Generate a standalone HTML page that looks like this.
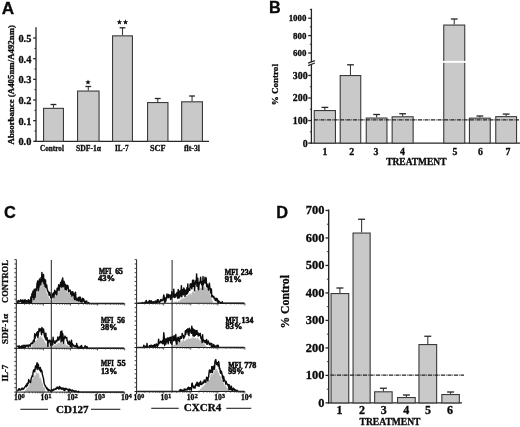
<!DOCTYPE html>
<html><head><meta charset="utf-8"><style>
html,body{margin:0;padding:0;background:#fff;}
svg{display:block;filter:blur(0.35px);}
text{fill:#0a0a0a;stroke:#0a0a0a;stroke-width:0.3px;}
.s{font-family:"Liberation Serif",serif;font-weight:bold;}
.r{font-family:"Liberation Serif",serif;font-weight:bold;}
.p{font-family:"Liberation Sans",sans-serif;font-weight:bold;}
</style></head><body>
<svg width="520" height="427" viewBox="0 0 520 427">
<rect width="520" height="427" fill="#fff"/>
<text class="p" x="1.80" y="13.60" font-size="17.2" text-anchor="start" >A</text>
<line x1="36.00" y1="27.30" x2="36.00" y2="141.90" stroke="#262626" stroke-width="1.3" />
<line x1="35.40" y1="141.30" x2="209.00" y2="141.30" stroke="#262626" stroke-width="1.3" />
<line x1="33.20" y1="141.30" x2="36.00" y2="141.30" stroke="#262626" stroke-width="1.3" />
<text class="s" x="31.30" y="145.20" font-size="9.8" text-anchor="end" textLength="12.90" lengthAdjust="spacingAndGlyphs" >0.0</text>
<line x1="34.40" y1="130.98" x2="36.00" y2="130.98" stroke="#262626" stroke-width="0.9" />
<line x1="33.20" y1="120.65" x2="36.00" y2="120.65" stroke="#262626" stroke-width="1.3" />
<text class="s" x="31.30" y="124.55" font-size="9.8" text-anchor="end" textLength="12.90" lengthAdjust="spacingAndGlyphs" >0.1</text>
<line x1="34.40" y1="110.33" x2="36.00" y2="110.33" stroke="#262626" stroke-width="0.9" />
<line x1="33.20" y1="100.00" x2="36.00" y2="100.00" stroke="#262626" stroke-width="1.3" />
<text class="s" x="31.30" y="103.90" font-size="9.8" text-anchor="end" textLength="12.90" lengthAdjust="spacingAndGlyphs" >0.2</text>
<line x1="34.40" y1="89.68" x2="36.00" y2="89.68" stroke="#262626" stroke-width="0.9" />
<line x1="33.20" y1="79.35" x2="36.00" y2="79.35" stroke="#262626" stroke-width="1.3" />
<text class="s" x="31.30" y="83.25" font-size="9.8" text-anchor="end" textLength="12.90" lengthAdjust="spacingAndGlyphs" >0.3</text>
<line x1="34.40" y1="69.03" x2="36.00" y2="69.03" stroke="#262626" stroke-width="0.9" />
<line x1="33.20" y1="58.70" x2="36.00" y2="58.70" stroke="#262626" stroke-width="1.3" />
<text class="s" x="31.30" y="62.60" font-size="9.8" text-anchor="end" textLength="12.90" lengthAdjust="spacingAndGlyphs" >0.4</text>
<line x1="34.40" y1="48.38" x2="36.00" y2="48.38" stroke="#262626" stroke-width="0.9" />
<line x1="33.20" y1="38.05" x2="36.00" y2="38.05" stroke="#262626" stroke-width="1.3" />
<text class="s" x="31.30" y="41.95" font-size="9.8" text-anchor="end" textLength="12.90" lengthAdjust="spacingAndGlyphs" >0.5</text>
<rect x="43.55" y="108.35" width="19.90" height="32.95" fill="#c9c9c9" stroke="#3a3a3a" stroke-width="1.1"/>
<line x1="53.50" y1="107.80" x2="53.50" y2="104.50" stroke="#3a3a3a" stroke-width="1.1" />
<line x1="50.60" y1="104.50" x2="56.40" y2="104.50" stroke="#262626" stroke-width="1.3" />
<rect x="77.55" y="91.05" width="21.50" height="50.25" fill="#c9c9c9" stroke="#3a3a3a" stroke-width="1.1"/>
<line x1="88.30" y1="90.50" x2="88.30" y2="86.50" stroke="#3a3a3a" stroke-width="1.1" />
<line x1="85.40" y1="86.50" x2="91.20" y2="86.50" stroke="#262626" stroke-width="1.3" />
<rect x="112.55" y="35.85" width="19.90" height="105.45" fill="#c9c9c9" stroke="#3a3a3a" stroke-width="1.1"/>
<line x1="122.50" y1="35.30" x2="122.50" y2="27.80" stroke="#3a3a3a" stroke-width="1.1" />
<line x1="119.60" y1="27.80" x2="125.40" y2="27.80" stroke="#262626" stroke-width="1.3" />
<rect x="147.55" y="102.55" width="20.40" height="38.75" fill="#c9c9c9" stroke="#3a3a3a" stroke-width="1.1"/>
<line x1="157.75" y1="102.00" x2="157.75" y2="98.50" stroke="#3a3a3a" stroke-width="1.1" />
<line x1="154.85" y1="98.50" x2="160.65" y2="98.50" stroke="#262626" stroke-width="1.3" />
<rect x="181.65" y="101.80" width="20.80" height="39.50" fill="#c9c9c9" stroke="#3a3a3a" stroke-width="1.1"/>
<line x1="192.05" y1="101.25" x2="192.05" y2="96.00" stroke="#3a3a3a" stroke-width="1.1" />
<line x1="189.15" y1="96.00" x2="194.95" y2="96.00" stroke="#262626" stroke-width="1.3" />
<text class="s" x="40.10" y="151.20" font-size="8.2" text-anchor="start" textLength="23.80" lengthAdjust="spacingAndGlyphs" >Control</text>
<text class="s" x="76.00" y="151.20" font-size="8.2" text-anchor="start" textLength="25.00" lengthAdjust="spacingAndGlyphs" >SDF-1&#945;</text>
<text class="s" x="115.00" y="151.20" font-size="8.2" text-anchor="start" textLength="13.75" lengthAdjust="spacingAndGlyphs" >IL-7</text>
<text class="s" x="150.00" y="151.20" font-size="8.2" text-anchor="start" textLength="15.50" lengthAdjust="spacingAndGlyphs" >SCF</text>
<text class="s" x="184.00" y="151.20" font-size="8.2" text-anchor="start" textLength="16.00" lengthAdjust="spacingAndGlyphs" >flt-3l</text>
<polygon points="88.00,79.45 88.73,81.29 90.71,81.42 89.19,82.69 89.68,84.61 88.00,83.55 86.32,84.61 86.81,82.69 85.29,81.42 87.27,81.29" fill="#111"/>
<polygon points="119.40,19.35 120.13,21.19 122.11,21.32 120.59,22.59 121.08,24.51 119.40,23.45 117.72,24.51 118.21,22.59 116.69,21.32 118.67,21.19" fill="#111"/>
<polygon points="125.50,19.35 126.23,21.19 128.21,21.32 126.69,22.59 127.18,24.51 125.50,23.45 123.82,24.51 124.31,22.59 122.79,21.32 124.77,21.19" fill="#111"/>
<text class="s" font-size="8.2" transform="translate(14.2,144.5) rotate(-90)" textLength="119.5" lengthAdjust="spacingAndGlyphs">Absorbance (A405nm/A492nm)</text>
<text class="p" x="269.00" y="12.80" font-size="16.2" text-anchor="start" >B</text>
<line x1="311.40" y1="8.70" x2="311.40" y2="143.70" stroke="#262626" stroke-width="1.3" />
<line x1="310.80" y1="143.10" x2="520.00" y2="143.10" stroke="#262626" stroke-width="1.3" />
<line x1="308.20" y1="143.10" x2="311.40" y2="143.10" stroke="#262626" stroke-width="1.3" />
<text class="s" x="307.60" y="146.50" font-size="9.9" text-anchor="end" >0</text>
<line x1="309.80" y1="131.82" x2="311.40" y2="131.82" stroke="#262626" stroke-width="0.9" />
<line x1="308.20" y1="120.55" x2="311.40" y2="120.55" stroke="#262626" stroke-width="1.3" />
<text class="s" x="307.60" y="123.95" font-size="9.9" text-anchor="end" >100</text>
<line x1="309.80" y1="109.27" x2="311.40" y2="109.27" stroke="#262626" stroke-width="0.9" />
<line x1="308.20" y1="98.00" x2="311.40" y2="98.00" stroke="#262626" stroke-width="1.3" />
<text class="s" x="307.60" y="101.40" font-size="9.9" text-anchor="end" >200</text>
<line x1="309.80" y1="86.72" x2="311.40" y2="86.72" stroke="#262626" stroke-width="0.9" />
<line x1="308.20" y1="75.45" x2="311.40" y2="75.45" stroke="#262626" stroke-width="1.3" />
<text class="s" x="307.60" y="78.85" font-size="9.9" text-anchor="end" >300</text>
<line x1="309.80" y1="64.17" x2="311.40" y2="64.17" stroke="#262626" stroke-width="0.9" />
<line x1="308.20" y1="53.00" x2="311.40" y2="53.00" stroke="#262626" stroke-width="1.3" />
<text class="s" x="306.40" y="56.20" font-size="8.9" text-anchor="end" >600</text>
<line x1="309.80" y1="44.30" x2="311.40" y2="44.30" stroke="#262626" stroke-width="0.9" />
<line x1="308.20" y1="35.60" x2="311.40" y2="35.60" stroke="#262626" stroke-width="1.3" />
<text class="s" x="306.40" y="38.80" font-size="8.9" text-anchor="end" >800</text>
<line x1="309.80" y1="26.90" x2="311.40" y2="26.90" stroke="#262626" stroke-width="0.9" />
<line x1="308.20" y1="18.20" x2="311.40" y2="18.20" stroke="#262626" stroke-width="1.3" />
<text class="s" x="306.40" y="21.40" font-size="8.9" text-anchor="end" >1000</text>
<line x1="309.80" y1="9.50" x2="311.40" y2="9.50" stroke="#262626" stroke-width="0.9" />
<polygon points="309.5,62.9 314.2,61.1 314.2,63.5 309.5,65.3" fill="#fff"/>
<line x1="308.10" y1="63.20" x2="314.90" y2="60.60" stroke="#262626" stroke-width="1.25" />
<line x1="308.10" y1="65.60" x2="314.90" y2="63.00" stroke="#262626" stroke-width="1.25" />
<rect x="314.25" y="110.55" width="21.20" height="32.55" fill="#c9c9c9" stroke="#3a3a3a" stroke-width="1.1"/>
<line x1="324.85" y1="110.00" x2="324.85" y2="107.40" stroke="#3a3a3a" stroke-width="1.1" />
<line x1="321.45" y1="107.40" x2="328.25" y2="107.40" stroke="#262626" stroke-width="1.3" />
<rect x="340.20" y="75.55" width="20.55" height="67.55" fill="#c9c9c9" stroke="#3a3a3a" stroke-width="1.1"/>
<line x1="350.48" y1="75.00" x2="350.48" y2="64.80" stroke="#3a3a3a" stroke-width="1.1" />
<line x1="347.08" y1="64.80" x2="353.88" y2="64.80" stroke="#262626" stroke-width="1.3" />
<rect x="366.25" y="118.05" width="20.70" height="25.05" fill="#c9c9c9" stroke="#3a3a3a" stroke-width="1.1"/>
<line x1="376.60" y1="117.50" x2="376.60" y2="114.50" stroke="#3a3a3a" stroke-width="1.1" />
<line x1="373.20" y1="114.50" x2="380.00" y2="114.50" stroke="#262626" stroke-width="1.3" />
<rect x="392.15" y="116.80" width="21.00" height="26.30" fill="#c9c9c9" stroke="#3a3a3a" stroke-width="1.1"/>
<line x1="402.65" y1="116.25" x2="402.65" y2="113.75" stroke="#3a3a3a" stroke-width="1.1" />
<line x1="399.25" y1="113.75" x2="406.05" y2="113.75" stroke="#262626" stroke-width="1.3" />
<rect x="443.75" y="25.05" width="21.00" height="118.05" fill="#c9c9c9" stroke="#3a3a3a" stroke-width="1.1"/>
<line x1="454.25" y1="24.50" x2="454.25" y2="19.00" stroke="#3a3a3a" stroke-width="1.1" />
<line x1="450.85" y1="19.00" x2="457.65" y2="19.00" stroke="#262626" stroke-width="1.3" />
<rect x="469.45" y="118.15" width="20.80" height="24.95" fill="#c9c9c9" stroke="#3a3a3a" stroke-width="1.1"/>
<line x1="479.85" y1="117.60" x2="479.85" y2="116.00" stroke="#3a3a3a" stroke-width="1.1" />
<line x1="476.45" y1="116.00" x2="483.25" y2="116.00" stroke="#262626" stroke-width="1.3" />
<rect x="495.75" y="116.65" width="20.80" height="26.45" fill="#c9c9c9" stroke="#3a3a3a" stroke-width="1.1"/>
<line x1="506.15" y1="116.10" x2="506.15" y2="114.10" stroke="#3a3a3a" stroke-width="1.1" />
<line x1="502.75" y1="114.10" x2="509.55" y2="114.10" stroke="#262626" stroke-width="1.3" />
<rect x="442.0" y="60.9" width="24.5" height="1.9" fill="#fff"/>
<line x1="314.0" y1="119.8" x2="519" y2="119.8" stroke="#222" stroke-width="1.25" stroke-dasharray="4 0.85 0.8 0.85"/>
<text class="s" x="325.00" y="154.60" font-size="9.8" text-anchor="middle" >1</text>
<text class="s" x="351.70" y="154.60" font-size="9.8" text-anchor="middle" >2</text>
<text class="s" x="376.00" y="154.60" font-size="9.8" text-anchor="middle" >3</text>
<text class="s" x="402.50" y="154.60" font-size="9.8" text-anchor="middle" >4</text>
<text class="s" x="455.00" y="154.60" font-size="9.8" text-anchor="middle" >5</text>
<text class="s" x="480.50" y="154.60" font-size="9.8" text-anchor="middle" >6</text>
<text class="s" x="508.00" y="154.60" font-size="9.8" text-anchor="middle" >7</text>
<text class="s" x="386.20" y="165.10" font-size="9.6" text-anchor="start" textLength="60.30" lengthAdjust="spacingAndGlyphs" >TREATMENT</text>
<text class="s" font-size="9" transform="translate(278.4,105.3) rotate(-90)" textLength="41.2" lengthAdjust="spacingAndGlyphs">% Control</text>
<text class="p" x="3.90" y="218.30" font-size="16.4" text-anchor="start" >C</text>
<path d="M17.10,303.50 L17.10,303.50 L17.50,303.50 L17.90,303.50 L18.30,303.50 L18.70,303.50 L19.10,303.50 L19.50,303.50 L19.90,303.50 L20.30,303.50 L20.70,303.50 L21.10,303.50 L21.50,303.50 L21.90,303.50 L22.30,303.50 L22.70,303.50 L23.10,303.50 L23.50,303.50 L23.90,303.50 L24.30,303.50 L24.70,303.50 L25.10,303.50 L25.50,303.50 L25.90,303.50 L26.30,303.50 L26.70,303.50 L27.10,303.50 L27.50,303.50 L27.90,303.50 L28.30,303.50 L28.70,303.50 L29.10,303.38 L29.50,303.03 L29.90,302.04 L30.30,302.03 L30.70,301.60 L31.10,301.53 L31.50,300.35 L31.90,298.65 L32.30,298.54 L32.70,297.36 L33.10,297.37 L33.50,296.59 L33.90,296.12 L34.30,297.17 L34.70,294.19 L35.10,293.78 L35.50,292.85 L35.90,294.09 L36.30,293.25 L36.70,291.46 L37.10,290.10 L37.50,288.34 L37.90,287.78 L38.30,286.23 L38.70,286.63 L39.10,284.63 L39.50,283.61 L39.90,283.94 L40.30,280.20 L40.70,280.66 L41.10,278.95 L41.50,280.27 L41.90,280.15 L42.30,279.39 L42.70,278.83 L43.10,278.11 L43.50,280.20 L43.90,282.63 L44.30,284.62 L44.70,285.43 L45.10,284.79 L45.50,288.39 L45.90,288.57 L46.30,289.72 L46.70,293.02 L47.10,292.69 L47.50,292.40 L47.90,296.51 L48.30,295.83 L48.70,296.56 L49.10,298.11 L49.50,297.92 L49.90,299.32 L50.30,300.81 L50.70,299.20 L51.10,299.53 L51.50,299.52 L51.90,299.35 L52.30,299.72 L52.70,299.24 L53.10,299.74 L53.50,297.48 L53.90,297.87 L54.30,297.07 L54.70,297.15 L55.10,296.23 L55.50,295.17 L55.90,292.76 L56.30,295.32 L56.70,294.12 L57.10,291.76 L57.50,289.86 L57.90,290.07 L58.30,292.19 L58.70,292.46 L59.10,289.02 L59.50,289.79 L59.90,289.81 L60.30,287.14 L60.70,286.59 L61.10,287.23 L61.50,286.73 L61.90,286.11 L62.30,284.92 L62.70,286.28 L63.10,286.66 L63.50,286.90 L63.90,289.48 L64.30,286.64 L64.70,287.26 L65.10,288.05 L65.50,291.21 L65.90,290.25 L66.30,289.18 L66.70,292.42 L67.10,291.21 L67.50,290.46 L67.90,293.30 L68.30,290.85 L68.70,292.39 L69.10,293.57 L69.50,293.59 L69.90,293.76 L70.30,294.63 L70.70,293.99 L71.10,295.99 L71.50,296.08 L71.90,295.07 L72.30,296.32 L72.70,297.45 L73.10,296.14 L73.50,296.02 L73.90,298.00 L74.30,299.12 L74.70,298.37 L75.10,298.68 L75.50,299.05 L75.90,297.89 L76.30,300.11 L76.70,298.51 L77.10,300.76 L77.50,300.61 L77.90,299.75 L78.30,299.62 L78.70,300.08 L79.10,300.70 L79.50,301.10 L79.90,301.33 L80.30,301.21 L80.70,301.90 L81.10,301.75 L81.50,301.71 L81.90,302.26 L82.30,301.92 L82.70,302.22 L83.10,301.47 L83.50,302.70 L83.90,303.32 L84.30,303.22 L84.70,303.38 L85.10,303.50 L85.50,303.50 L85.90,303.50 L86.30,303.50 L86.70,303.50 L87.10,303.50 L87.50,303.50 L87.90,303.50 L88.30,303.50 L88.70,303.50 L89.10,303.50 L89.50,303.50 L89.90,303.50 L90.30,303.50 L90.70,303.50 L91.10,303.50 L91.50,303.50 L91.90,303.50 L92.30,303.50 L92.70,303.50 L93.10,303.50 L93.50,303.50 L93.90,303.50 L94.30,303.50 L94.70,303.50 L95.10,303.50 L95.50,303.50 L95.90,303.50 L96.30,303.50 L96.70,303.50 L97.10,303.50 L97.50,303.50 L97.90,303.50 L98.30,303.50 L98.70,303.50 L99.10,303.50 L99.50,303.50 L99.90,303.50 L100.30,303.50 L100.70,303.50 L101.10,303.50 L101.50,303.50 L101.90,303.50 L102.30,303.50 L102.70,303.50 L103.10,303.50 L103.50,303.50 L103.90,303.50 L104.30,303.50 L104.70,303.50 L105.10,303.50 L105.50,303.50 L105.90,303.50 L106.30,303.50 L106.70,303.50 L107.10,303.50 L107.50,303.50 L107.90,303.50 L108.30,303.50 L108.70,303.50 L109.10,303.50 L109.50,303.50 L109.90,303.50 L110.30,303.50 L110.70,303.50 L111.10,303.50 L111.50,303.50 L111.90,303.50 L112.30,303.50 L112.70,303.50 L113.10,303.50 L113.50,303.50 L113.90,303.50 L114.30,303.50 L114.70,303.50 L115.10,303.50 L115.50,303.50 L115.90,303.50 L116.30,303.50 L116.70,303.50 L117.10,303.50 L117.50,303.50 L117.90,303.50 L118.30,303.50 L118.70,303.50 L119.10,303.50 L119.50,303.50 L119.90,303.50 L120.30,303.50 L120.70,303.50 L121.10,303.50 L121.50,303.50 L121.90,303.50 L122.30,303.50 L122.70,303.50 L123.10,303.50 L123.50,303.50 L123.90,303.50 L123.90,303.50 Z" fill="#b9b9b9" stroke="none"/>
<path d="M17.10,302.46 L17.50,302.66 L17.90,301.01 L18.30,300.57 L18.70,302.01 L19.10,301.03 L19.50,301.25 L19.90,301.78 L20.30,301.68 L20.70,299.61 L21.10,300.63 L21.50,300.60 L21.90,303.35 L22.30,300.77 L22.70,299.95 L23.10,302.27 L23.50,301.03 L23.90,300.42 L24.30,303.50 L24.70,301.56 L25.10,299.60 L25.50,301.95 L25.90,300.77 L26.30,303.50 L26.70,300.74 L27.10,302.33 L27.50,301.02 L27.90,301.19 L28.30,299.62 L28.70,303.17 L29.10,300.49 L29.50,302.24 L29.90,303.07 L30.30,300.57 L30.70,298.71 L31.10,296.64 L31.50,302.54 L31.90,293.82 L32.30,297.38 L32.70,292.85 L33.10,290.99 L33.50,291.31 L33.90,299.58 L34.30,289.24 L34.70,292.50 L35.10,297.26 L35.50,291.53 L35.90,288.83 L36.30,290.61 L36.70,287.87 L37.10,283.43 L37.50,282.06 L37.90,280.82 L38.30,290.61 L38.70,287.29 L39.10,286.90 L39.50,279.00 L39.90,280.95 L40.30,279.86 L40.70,284.68 L41.10,277.36 L41.50,282.00 L41.90,272.50 L42.30,278.46 L42.70,277.05 L43.10,281.70 L43.50,274.50 L43.90,283.69 L44.30,278.88 L44.70,283.11 L45.10,286.46 L45.50,279.99 L45.90,287.52 L46.30,287.39 L46.70,284.89 L47.10,288.83 L47.50,289.64 L47.90,291.54 L48.30,291.57 L48.70,292.36 L49.10,295.21 L49.50,292.48 L49.90,292.84 L50.30,294.66 L50.70,297.46 L51.10,296.46 L51.50,298.28 L51.90,298.14 L52.30,296.08 L52.70,294.21 L53.10,293.41 L53.50,292.88 L53.90,297.44 L54.30,293.96 L54.70,290.30 L55.10,293.83 L55.50,291.72 L55.90,291.52 L56.30,293.47 L56.70,294.68 L57.10,288.24 L57.50,290.77 L57.90,288.82 L58.30,288.39 L58.70,284.84 L59.10,290.22 L59.50,286.40 L59.90,286.81 L60.30,284.70 L60.70,282.35 L61.10,284.48 L61.50,287.05 L61.90,280.08 L62.30,281.03 L62.70,278.02 L63.10,286.88 L63.50,285.93 L63.90,281.21 L64.30,282.49 L64.70,284.74 L65.10,289.18 L65.50,284.49 L65.90,287.96 L66.30,290.09 L66.70,288.91 L67.10,285.12 L67.50,287.82 L67.90,285.83 L68.30,288.23 L68.70,291.70 L69.10,289.97 L69.50,290.86 L69.90,290.64 L70.30,290.24 L70.70,294.08 L71.10,291.85 L71.50,292.16 L71.90,296.06 L72.30,292.44 L72.70,291.68 L73.10,294.29 L73.50,295.49 L73.90,293.31 L74.30,298.26 L74.70,299.49 L75.10,299.74 L75.50,292.12 L75.90,297.82 L76.30,298.11 L76.70,300.03 L77.10,300.27 L77.50,300.45 L77.90,298.78 L78.30,297.54 L78.70,300.96 L79.10,297.53 L79.50,300.43 L79.90,296.88 L80.30,297.68 L80.70,301.57 L81.10,300.03 L81.50,300.20 L81.90,302.20 L82.30,298.24 L82.70,299.73 L83.10,301.13 L83.50,298.77 L83.90,299.64 L84.30,301.66 L84.70,302.50 L85.10,303.50 L85.50,301.27 L85.90,301.74 L86.30,302.05 L86.70,301.00 L87.10,303.32 L87.50,303.50 L87.90,303.50 L88.30,303.04 L88.70,302.60 L89.10,303.50 L89.50,303.50 L89.90,303.50 L90.30,303.50 L90.70,303.50 L91.10,303.50 L91.50,303.50 L91.90,303.50 L92.30,303.50 L92.70,303.50 L93.10,303.50 L93.50,303.50 L93.90,303.50 L94.30,303.50 L94.70,303.50 L95.10,303.50 L95.50,303.50 L95.90,303.50 L96.30,303.50 L96.70,303.50 L97.10,303.50 L97.50,303.50 L97.90,303.50 L98.30,303.50 L98.70,303.50 L99.10,303.50 L99.50,303.50 L99.90,303.50 L100.30,303.50 L100.70,303.50 L101.10,303.50 L101.50,303.50 L101.90,303.50 L102.30,303.50 L102.70,303.50 L103.10,303.50 L103.50,303.50 L103.90,303.50 L104.30,303.50 L104.70,303.50 L105.10,303.50 L105.50,303.50 L105.90,303.50 L106.30,303.50 L106.70,303.50 L107.10,303.50 L107.50,303.50 L107.90,303.50 L108.30,303.50 L108.70,303.50 L109.10,303.50 L109.50,303.50 L109.90,303.50 L110.30,303.50 L110.70,303.50 L111.10,303.50 L111.50,303.50 L111.90,303.50 L112.30,303.50 L112.70,303.50 L113.10,303.50 L113.50,303.50 L113.90,303.50 L114.30,303.50 L114.70,303.50 L115.10,303.50 L115.50,303.50 L115.90,303.50 L116.30,303.50 L116.70,303.50 L117.10,303.50 L117.50,303.50 L117.90,303.50 L118.30,303.50 L118.70,303.50 L119.10,303.50 L119.50,303.50 L119.90,303.50 L120.30,303.50 L120.70,303.50 L121.10,303.50 L121.50,303.50 L121.90,303.50 L122.30,303.50 L122.70,303.50 L123.10,303.50 L123.50,303.50 L123.90,303.50" fill="none" stroke="#0d0d0d" stroke-width="1.45" stroke-linejoin="round"/>
<line x1="14.30" y1="303.50" x2="124.70" y2="303.50" stroke="#222" stroke-width="1.0" />
<line x1="16.30" y1="303.50" x2="16.30" y2="305.70" stroke="#333" stroke-width="0.8" />
<line x1="24.46" y1="303.50" x2="24.46" y2="304.70" stroke="#333" stroke-width="0.8" />
<line x1="29.23" y1="303.50" x2="29.23" y2="304.70" stroke="#333" stroke-width="0.8" />
<line x1="32.62" y1="303.50" x2="32.62" y2="304.70" stroke="#333" stroke-width="0.8" />
<line x1="35.24" y1="303.50" x2="35.24" y2="304.70" stroke="#333" stroke-width="0.8" />
<line x1="37.39" y1="303.50" x2="37.39" y2="304.70" stroke="#333" stroke-width="0.8" />
<line x1="39.20" y1="303.50" x2="39.20" y2="304.70" stroke="#333" stroke-width="0.8" />
<line x1="40.77" y1="303.50" x2="40.77" y2="304.70" stroke="#333" stroke-width="0.8" />
<line x1="42.16" y1="303.50" x2="42.16" y2="304.70" stroke="#333" stroke-width="0.8" />
<line x1="43.40" y1="303.50" x2="43.40" y2="305.70" stroke="#333" stroke-width="0.8" />
<line x1="51.56" y1="303.50" x2="51.56" y2="304.70" stroke="#333" stroke-width="0.8" />
<line x1="56.33" y1="303.50" x2="56.33" y2="304.70" stroke="#333" stroke-width="0.8" />
<line x1="59.72" y1="303.50" x2="59.72" y2="304.70" stroke="#333" stroke-width="0.8" />
<line x1="62.34" y1="303.50" x2="62.34" y2="304.70" stroke="#333" stroke-width="0.8" />
<line x1="64.49" y1="303.50" x2="64.49" y2="304.70" stroke="#333" stroke-width="0.8" />
<line x1="66.30" y1="303.50" x2="66.30" y2="304.70" stroke="#333" stroke-width="0.8" />
<line x1="67.87" y1="303.50" x2="67.87" y2="304.70" stroke="#333" stroke-width="0.8" />
<line x1="69.26" y1="303.50" x2="69.26" y2="304.70" stroke="#333" stroke-width="0.8" />
<line x1="70.50" y1="303.50" x2="70.50" y2="305.70" stroke="#333" stroke-width="0.8" />
<line x1="78.66" y1="303.50" x2="78.66" y2="304.70" stroke="#333" stroke-width="0.8" />
<line x1="83.43" y1="303.50" x2="83.43" y2="304.70" stroke="#333" stroke-width="0.8" />
<line x1="86.82" y1="303.50" x2="86.82" y2="304.70" stroke="#333" stroke-width="0.8" />
<line x1="89.44" y1="303.50" x2="89.44" y2="304.70" stroke="#333" stroke-width="0.8" />
<line x1="91.59" y1="303.50" x2="91.59" y2="304.70" stroke="#333" stroke-width="0.8" />
<line x1="93.40" y1="303.50" x2="93.40" y2="304.70" stroke="#333" stroke-width="0.8" />
<line x1="94.97" y1="303.50" x2="94.97" y2="304.70" stroke="#333" stroke-width="0.8" />
<line x1="96.36" y1="303.50" x2="96.36" y2="304.70" stroke="#333" stroke-width="0.8" />
<line x1="97.60" y1="303.50" x2="97.60" y2="305.70" stroke="#333" stroke-width="0.8" />
<line x1="105.76" y1="303.50" x2="105.76" y2="304.70" stroke="#333" stroke-width="0.8" />
<line x1="110.53" y1="303.50" x2="110.53" y2="304.70" stroke="#333" stroke-width="0.8" />
<line x1="113.92" y1="303.50" x2="113.92" y2="304.70" stroke="#333" stroke-width="0.8" />
<line x1="116.54" y1="303.50" x2="116.54" y2="304.70" stroke="#333" stroke-width="0.8" />
<line x1="118.69" y1="303.50" x2="118.69" y2="304.70" stroke="#333" stroke-width="0.8" />
<line x1="120.50" y1="303.50" x2="120.50" y2="304.70" stroke="#333" stroke-width="0.8" />
<line x1="122.07" y1="303.50" x2="122.07" y2="304.70" stroke="#333" stroke-width="0.8" />
<line x1="123.46" y1="303.50" x2="123.46" y2="304.70" stroke="#333" stroke-width="0.8" />
<line x1="124.70" y1="303.50" x2="124.70" y2="305.70" stroke="#333" stroke-width="0.8" />
<path d="M17.10,348.30 L17.10,348.30 L17.50,348.30 L17.90,348.30 L18.30,348.30 L18.70,348.30 L19.10,348.30 L19.50,348.30 L19.90,348.30 L20.30,348.30 L20.70,348.30 L21.10,348.30 L21.50,348.30 L21.90,348.30 L22.30,348.30 L22.70,348.30 L23.10,348.30 L23.50,348.30 L23.90,348.30 L24.30,348.30 L24.70,348.30 L25.10,348.30 L25.50,348.30 L25.90,348.30 L26.30,348.30 L26.70,348.30 L27.10,348.30 L27.50,348.30 L27.90,348.30 L28.30,348.30 L28.70,348.30 L29.10,348.30 L29.50,348.30 L29.90,348.30 L30.30,347.24 L30.70,347.29 L31.10,346.07 L31.50,347.99 L31.90,346.32 L32.30,345.04 L32.70,344.23 L33.10,342.29 L33.50,343.41 L33.90,342.10 L34.30,342.02 L34.70,341.35 L35.10,341.22 L35.50,341.32 L35.90,340.21 L36.30,341.18 L36.70,338.56 L37.10,340.18 L37.50,338.63 L37.90,336.47 L38.30,338.40 L38.70,337.82 L39.10,336.35 L39.50,337.13 L39.90,337.63 L40.30,336.21 L40.70,335.94 L41.10,336.27 L41.50,338.21 L41.90,336.18 L42.30,336.74 L42.70,338.80 L43.10,339.02 L43.50,340.13 L43.90,338.87 L44.30,341.44 L44.70,340.87 L45.10,342.55 L45.50,343.39 L45.90,342.87 L46.30,343.06 L46.70,344.81 L47.10,345.86 L47.50,344.94 L47.90,345.79 L48.30,345.72 L48.70,345.05 L49.10,345.55 L49.50,346.91 L49.90,345.18 L50.30,346.69 L50.70,345.99 L51.10,346.85 L51.50,346.27 L51.90,347.35 L52.30,344.63 L52.70,344.78 L53.10,346.54 L53.50,346.62 L53.90,346.57 L54.30,344.21 L54.70,345.22 L55.10,344.66 L55.50,344.61 L55.90,344.21 L56.30,344.75 L56.70,343.59 L57.10,344.56 L57.50,343.17 L57.90,342.60 L58.30,342.40 L58.70,343.00 L59.10,343.57 L59.50,342.66 L59.90,343.21 L60.30,341.47 L60.70,342.15 L61.10,342.90 L61.50,343.20 L61.90,343.40 L62.30,343.71 L62.70,343.36 L63.10,342.97 L63.50,342.93 L63.90,343.04 L64.30,341.94 L64.70,344.39 L65.10,343.95 L65.50,341.86 L65.90,345.76 L66.30,344.94 L66.70,344.69 L67.10,345.01 L67.50,345.12 L67.90,345.90 L68.30,345.76 L68.70,346.29 L69.10,346.09 L69.50,348.20 L69.90,347.81 L70.30,347.38 L70.70,348.13 L71.10,348.23 L71.50,347.29 L71.90,348.17 L72.30,347.50 L72.70,347.54 L73.10,348.07 L73.50,348.18 L73.90,348.27 L74.30,348.30 L74.70,348.30 L75.10,348.30 L75.50,348.30 L75.90,348.30 L76.30,348.30 L76.70,348.30 L77.10,348.30 L77.50,348.30 L77.90,348.30 L78.30,348.30 L78.70,348.30 L79.10,348.30 L79.50,348.30 L79.90,348.30 L80.30,348.30 L80.70,348.30 L81.10,348.30 L81.50,348.30 L81.90,348.30 L82.30,348.30 L82.70,348.30 L83.10,348.30 L83.50,348.30 L83.90,348.30 L84.30,348.30 L84.70,348.30 L85.10,348.30 L85.50,348.30 L85.90,348.30 L86.30,348.30 L86.70,348.30 L87.10,348.30 L87.50,348.30 L87.90,348.30 L88.30,348.30 L88.70,348.30 L89.10,348.30 L89.50,348.30 L89.90,348.30 L90.30,348.30 L90.70,348.30 L91.10,348.30 L91.50,348.30 L91.90,348.30 L92.30,348.30 L92.70,348.30 L93.10,348.30 L93.50,348.30 L93.90,348.30 L94.30,348.30 L94.70,348.30 L95.10,348.30 L95.50,348.30 L95.90,348.30 L96.30,348.30 L96.70,348.30 L97.10,348.30 L97.50,348.30 L97.90,348.30 L98.30,348.30 L98.70,348.30 L99.10,348.30 L99.50,348.30 L99.90,348.30 L100.30,348.30 L100.70,348.30 L101.10,348.30 L101.50,348.30 L101.90,348.30 L102.30,348.30 L102.70,348.30 L103.10,348.30 L103.50,348.30 L103.90,348.30 L104.30,348.30 L104.70,348.30 L105.10,348.30 L105.50,348.30 L105.90,348.30 L106.30,348.30 L106.70,348.30 L107.10,348.30 L107.50,348.30 L107.90,348.30 L108.30,348.30 L108.70,348.30 L109.10,348.30 L109.50,348.30 L109.90,348.30 L110.30,348.30 L110.70,348.30 L111.10,348.30 L111.50,348.30 L111.90,348.30 L112.30,348.30 L112.70,348.30 L113.10,348.30 L113.50,348.30 L113.90,348.30 L114.30,348.30 L114.70,348.30 L115.10,348.30 L115.50,348.30 L115.90,348.30 L116.30,348.30 L116.70,348.30 L117.10,348.30 L117.50,348.30 L117.90,348.30 L118.30,348.30 L118.70,348.30 L119.10,348.30 L119.50,348.30 L119.90,348.30 L120.30,348.30 L120.70,348.30 L121.10,348.30 L121.50,348.30 L121.90,348.30 L122.30,348.30 L122.70,348.30 L123.10,348.30 L123.50,348.30 L123.90,348.30 L123.90,348.30 Z" fill="#b9b9b9" stroke="none"/>
<path d="M17.10,346.74 L17.50,346.12 L17.90,346.10 L18.30,346.87 L18.70,346.14 L19.10,348.30 L19.50,346.06 L19.90,346.72 L20.30,346.97 L20.70,347.40 L21.10,346.72 L21.50,345.91 L21.90,348.30 L22.30,346.42 L22.70,346.51 L23.10,345.14 L23.50,347.61 L23.90,346.69 L24.30,346.50 L24.70,345.36 L25.10,347.72 L25.50,346.89 L25.90,345.12 L26.30,345.50 L26.70,346.20 L27.10,345.53 L27.50,345.17 L27.90,345.09 L28.30,347.05 L28.70,346.18 L29.10,344.91 L29.50,345.78 L29.90,345.08 L30.30,346.01 L30.70,343.80 L31.10,343.86 L31.50,342.95 L31.90,343.44 L32.30,343.61 L32.70,343.29 L33.10,341.47 L33.50,340.27 L33.90,341.86 L34.30,341.39 L34.70,333.80 L35.10,338.24 L35.50,335.57 L35.90,335.95 L36.30,334.84 L36.70,332.84 L37.10,334.98 L37.50,331.81 L37.90,337.42 L38.30,334.72 L38.70,331.71 L39.10,328.58 L39.50,331.30 L39.90,329.99 L40.30,329.43 L40.70,328.80 L41.10,331.14 L41.50,334.69 L41.90,327.53 L42.30,329.22 L42.70,331.91 L43.10,332.56 L43.50,328.92 L43.90,331.75 L44.30,335.31 L44.70,336.89 L45.10,333.40 L45.50,339.14 L45.90,333.32 L46.30,340.01 L46.70,337.76 L47.10,337.72 L47.50,340.00 L47.90,346.40 L48.30,340.80 L48.70,342.01 L49.10,340.32 L49.50,341.39 L49.90,340.15 L50.30,342.84 L50.70,345.60 L51.10,345.07 L51.50,340.26 L51.90,341.02 L52.30,344.00 L52.70,344.91 L53.10,337.30 L53.50,342.00 L53.90,340.77 L54.30,341.89 L54.70,343.26 L55.10,343.07 L55.50,342.67 L55.90,340.70 L56.30,340.81 L56.70,341.53 L57.10,340.14 L57.50,338.94 L57.90,336.93 L58.30,340.30 L58.70,339.18 L59.10,339.66 L59.50,337.72 L59.90,336.21 L60.30,337.37 L60.70,331.80 L61.10,341.95 L61.50,334.82 L61.90,331.09 L62.30,340.77 L62.70,333.71 L63.10,336.26 L63.50,343.22 L63.90,338.57 L64.30,338.64 L64.70,337.11 L65.10,336.06 L65.50,337.94 L65.90,337.90 L66.30,337.89 L66.70,337.40 L67.10,340.54 L67.50,340.54 L67.90,343.74 L68.30,342.29 L68.70,342.60 L69.10,344.29 L69.50,341.22 L69.90,343.67 L70.30,346.71 L70.70,342.25 L71.10,343.46 L71.50,340.15 L71.90,347.43 L72.30,343.58 L72.70,344.68 L73.10,345.13 L73.50,345.01 L73.90,346.09 L74.30,346.75 L74.70,346.17 L75.10,345.76 L75.50,346.75 L75.90,345.77 L76.30,346.90 L76.70,343.59 L77.10,347.21 L77.50,345.82 L77.90,348.14 L78.30,347.13 L78.70,348.07 L79.10,347.00 L79.50,347.95 L79.90,348.30 L80.30,347.48 L80.70,346.34 L81.10,348.30 L81.50,345.40 L81.90,346.91 L82.30,348.30 L82.70,347.88 L83.10,348.30 L83.50,347.99 L83.90,347.66 L84.30,347.37 L84.70,347.30 L85.10,345.71 L85.50,346.98 L85.90,346.44 L86.30,348.02 L86.70,347.61 L87.10,346.76 L87.50,348.30 L87.90,348.30 L88.30,348.30 L88.70,348.30 L89.10,348.30 L89.50,348.30 L89.90,348.30 L90.30,348.30 L90.70,348.30 L91.10,348.30 L91.50,348.30 L91.90,348.30 L92.30,348.30 L92.70,348.30 L93.10,348.30 L93.50,348.30 L93.90,348.30 L94.30,348.30 L94.70,348.30 L95.10,348.30 L95.50,348.30 L95.90,348.30 L96.30,348.30 L96.70,348.30 L97.10,348.30 L97.50,348.30 L97.90,348.30 L98.30,348.30 L98.70,348.30 L99.10,348.30 L99.50,348.30 L99.90,348.30 L100.30,348.30 L100.70,348.30 L101.10,348.30 L101.50,348.30 L101.90,348.30 L102.30,348.30 L102.70,348.30 L103.10,348.30 L103.50,348.30 L103.90,348.30 L104.30,348.30 L104.70,348.30 L105.10,348.30 L105.50,348.30 L105.90,348.30 L106.30,348.30 L106.70,348.30 L107.10,348.30 L107.50,348.30 L107.90,348.30 L108.30,348.30 L108.70,348.30 L109.10,348.30 L109.50,348.30 L109.90,348.30 L110.30,348.30 L110.70,348.30 L111.10,348.30 L111.50,348.30 L111.90,348.30 L112.30,348.30 L112.70,348.30 L113.10,348.30 L113.50,348.30 L113.90,348.30 L114.30,348.30 L114.70,348.30 L115.10,348.30 L115.50,348.30 L115.90,348.30 L116.30,348.30 L116.70,348.30 L117.10,348.30 L117.50,348.30 L117.90,348.30 L118.30,348.30 L118.70,348.30 L119.10,348.30 L119.50,348.30 L119.90,348.30 L120.30,348.30 L120.70,348.30 L121.10,348.30 L121.50,348.30 L121.90,348.30 L122.30,348.30 L122.70,348.30 L123.10,348.30 L123.50,348.30 L123.90,348.30" fill="none" stroke="#0d0d0d" stroke-width="1.45" stroke-linejoin="round"/>
<line x1="14.30" y1="348.30" x2="124.70" y2="348.30" stroke="#222" stroke-width="1.0" />
<line x1="16.30" y1="348.30" x2="16.30" y2="350.50" stroke="#333" stroke-width="0.8" />
<line x1="24.46" y1="348.30" x2="24.46" y2="349.50" stroke="#333" stroke-width="0.8" />
<line x1="29.23" y1="348.30" x2="29.23" y2="349.50" stroke="#333" stroke-width="0.8" />
<line x1="32.62" y1="348.30" x2="32.62" y2="349.50" stroke="#333" stroke-width="0.8" />
<line x1="35.24" y1="348.30" x2="35.24" y2="349.50" stroke="#333" stroke-width="0.8" />
<line x1="37.39" y1="348.30" x2="37.39" y2="349.50" stroke="#333" stroke-width="0.8" />
<line x1="39.20" y1="348.30" x2="39.20" y2="349.50" stroke="#333" stroke-width="0.8" />
<line x1="40.77" y1="348.30" x2="40.77" y2="349.50" stroke="#333" stroke-width="0.8" />
<line x1="42.16" y1="348.30" x2="42.16" y2="349.50" stroke="#333" stroke-width="0.8" />
<line x1="43.40" y1="348.30" x2="43.40" y2="350.50" stroke="#333" stroke-width="0.8" />
<line x1="51.56" y1="348.30" x2="51.56" y2="349.50" stroke="#333" stroke-width="0.8" />
<line x1="56.33" y1="348.30" x2="56.33" y2="349.50" stroke="#333" stroke-width="0.8" />
<line x1="59.72" y1="348.30" x2="59.72" y2="349.50" stroke="#333" stroke-width="0.8" />
<line x1="62.34" y1="348.30" x2="62.34" y2="349.50" stroke="#333" stroke-width="0.8" />
<line x1="64.49" y1="348.30" x2="64.49" y2="349.50" stroke="#333" stroke-width="0.8" />
<line x1="66.30" y1="348.30" x2="66.30" y2="349.50" stroke="#333" stroke-width="0.8" />
<line x1="67.87" y1="348.30" x2="67.87" y2="349.50" stroke="#333" stroke-width="0.8" />
<line x1="69.26" y1="348.30" x2="69.26" y2="349.50" stroke="#333" stroke-width="0.8" />
<line x1="70.50" y1="348.30" x2="70.50" y2="350.50" stroke="#333" stroke-width="0.8" />
<line x1="78.66" y1="348.30" x2="78.66" y2="349.50" stroke="#333" stroke-width="0.8" />
<line x1="83.43" y1="348.30" x2="83.43" y2="349.50" stroke="#333" stroke-width="0.8" />
<line x1="86.82" y1="348.30" x2="86.82" y2="349.50" stroke="#333" stroke-width="0.8" />
<line x1="89.44" y1="348.30" x2="89.44" y2="349.50" stroke="#333" stroke-width="0.8" />
<line x1="91.59" y1="348.30" x2="91.59" y2="349.50" stroke="#333" stroke-width="0.8" />
<line x1="93.40" y1="348.30" x2="93.40" y2="349.50" stroke="#333" stroke-width="0.8" />
<line x1="94.97" y1="348.30" x2="94.97" y2="349.50" stroke="#333" stroke-width="0.8" />
<line x1="96.36" y1="348.30" x2="96.36" y2="349.50" stroke="#333" stroke-width="0.8" />
<line x1="97.60" y1="348.30" x2="97.60" y2="350.50" stroke="#333" stroke-width="0.8" />
<line x1="105.76" y1="348.30" x2="105.76" y2="349.50" stroke="#333" stroke-width="0.8" />
<line x1="110.53" y1="348.30" x2="110.53" y2="349.50" stroke="#333" stroke-width="0.8" />
<line x1="113.92" y1="348.30" x2="113.92" y2="349.50" stroke="#333" stroke-width="0.8" />
<line x1="116.54" y1="348.30" x2="116.54" y2="349.50" stroke="#333" stroke-width="0.8" />
<line x1="118.69" y1="348.30" x2="118.69" y2="349.50" stroke="#333" stroke-width="0.8" />
<line x1="120.50" y1="348.30" x2="120.50" y2="349.50" stroke="#333" stroke-width="0.8" />
<line x1="122.07" y1="348.30" x2="122.07" y2="349.50" stroke="#333" stroke-width="0.8" />
<line x1="123.46" y1="348.30" x2="123.46" y2="349.50" stroke="#333" stroke-width="0.8" />
<line x1="124.70" y1="348.30" x2="124.70" y2="350.50" stroke="#333" stroke-width="0.8" />
<path d="M17.10,392.10 L17.10,392.10 L17.50,392.10 L17.90,392.10 L18.30,392.10 L18.70,392.10 L19.10,392.10 L19.50,392.10 L19.90,392.10 L20.30,392.10 L20.70,392.10 L21.10,392.10 L21.50,392.10 L21.90,392.10 L22.30,392.10 L22.70,392.10 L23.10,392.10 L23.50,392.10 L23.90,391.43 L24.30,391.30 L24.70,391.89 L25.10,390.51 L25.50,389.83 L25.90,390.09 L26.30,388.92 L26.70,388.04 L27.10,388.08 L27.50,385.63 L27.90,388.96 L28.30,386.33 L28.70,387.16 L29.10,384.07 L29.50,381.91 L29.90,386.09 L30.30,383.03 L30.70,382.05 L31.10,382.20 L31.50,380.55 L31.90,382.58 L32.30,378.62 L32.70,378.31 L33.10,377.88 L33.50,377.74 L33.90,375.60 L34.30,376.16 L34.70,374.73 L35.10,374.92 L35.50,376.27 L35.90,373.10 L36.30,372.18 L36.70,371.46 L37.10,373.84 L37.50,373.34 L37.90,373.08 L38.30,374.10 L38.70,373.34 L39.10,373.11 L39.50,377.26 L39.90,379.27 L40.30,377.22 L40.70,377.47 L41.10,379.06 L41.50,380.12 L41.90,382.47 L42.30,383.48 L42.70,382.90 L43.10,385.50 L43.50,387.20 L43.90,387.39 L44.30,385.42 L44.70,386.88 L45.10,389.91 L45.50,391.10 L45.90,391.67 L46.30,392.10 L46.70,392.10 L47.10,392.10 L47.50,392.10 L47.90,392.10 L48.30,392.10 L48.70,392.10 L49.10,392.10 L49.50,392.10 L49.90,392.10 L50.30,392.10 L50.70,392.10 L51.10,392.10 L51.50,392.10 L51.90,392.10 L52.30,392.10 L52.70,392.10 L53.10,392.10 L53.50,392.10 L53.90,392.10 L54.30,392.10 L54.70,392.10 L55.10,392.10 L55.50,392.10 L55.90,392.10 L56.30,392.10 L56.70,392.10 L57.10,392.10 L57.50,392.10 L57.90,392.10 L58.30,392.10 L58.70,392.10 L59.10,392.10 L59.50,392.10 L59.90,392.10 L60.30,392.10 L60.70,392.10 L61.10,392.10 L61.50,392.10 L61.90,392.10 L62.30,392.10 L62.70,392.10 L63.10,392.10 L63.50,392.10 L63.90,392.10 L64.30,392.10 L64.70,392.10 L65.10,392.10 L65.50,392.10 L65.90,392.10 L66.30,392.10 L66.70,392.10 L67.10,392.10 L67.50,392.10 L67.90,392.10 L68.30,392.10 L68.70,392.10 L69.10,392.10 L69.50,392.10 L69.90,392.10 L70.30,392.10 L70.70,392.10 L71.10,392.10 L71.50,392.10 L71.90,392.10 L72.30,392.10 L72.70,392.10 L73.10,392.10 L73.50,392.10 L73.90,392.10 L74.30,392.10 L74.70,392.10 L75.10,392.10 L75.50,392.10 L75.90,392.10 L76.30,392.10 L76.70,392.10 L77.10,392.10 L77.50,392.10 L77.90,392.10 L78.30,392.10 L78.70,392.10 L79.10,392.10 L79.50,392.10 L79.90,392.10 L80.30,392.10 L80.70,392.10 L81.10,392.10 L81.50,392.10 L81.90,392.10 L82.30,392.10 L82.70,392.10 L83.10,392.10 L83.50,392.10 L83.90,392.10 L84.30,392.10 L84.70,392.10 L85.10,392.10 L85.50,392.10 L85.90,392.10 L86.30,392.10 L86.70,392.10 L87.10,392.10 L87.50,392.10 L87.90,392.10 L88.30,392.10 L88.70,392.10 L89.10,392.10 L89.50,392.10 L89.90,392.10 L90.30,392.10 L90.70,392.10 L91.10,392.10 L91.50,392.10 L91.90,392.10 L92.30,392.10 L92.70,392.10 L93.10,392.10 L93.50,392.10 L93.90,392.10 L94.30,392.10 L94.70,392.10 L95.10,392.10 L95.50,392.10 L95.90,392.10 L96.30,392.10 L96.70,392.10 L97.10,392.10 L97.50,392.10 L97.90,392.10 L98.30,392.10 L98.70,392.10 L99.10,392.10 L99.50,392.10 L99.90,392.10 L100.30,392.10 L100.70,392.10 L101.10,392.10 L101.50,392.10 L101.90,392.10 L102.30,392.10 L102.70,392.10 L103.10,392.10 L103.50,392.10 L103.90,392.10 L104.30,392.10 L104.70,392.10 L105.10,392.10 L105.50,392.10 L105.90,392.10 L106.30,392.10 L106.70,392.10 L107.10,392.10 L107.50,392.10 L107.90,392.10 L108.30,392.10 L108.70,392.10 L109.10,392.10 L109.50,392.10 L109.90,392.10 L110.30,392.10 L110.70,392.10 L111.10,392.10 L111.50,392.10 L111.90,392.10 L112.30,392.10 L112.70,392.10 L113.10,392.10 L113.50,392.10 L113.90,392.10 L114.30,392.10 L114.70,392.10 L115.10,392.10 L115.50,392.10 L115.90,392.10 L116.30,392.10 L116.70,392.10 L117.10,392.10 L117.50,392.10 L117.90,392.10 L118.30,392.10 L118.70,392.10 L119.10,392.10 L119.50,392.10 L119.90,392.10 L120.30,392.10 L120.70,392.10 L121.10,392.10 L121.50,392.10 L121.90,392.10 L122.30,392.10 L122.70,392.10 L123.10,392.10 L123.50,392.10 L123.90,392.10 L123.90,392.10 Z" fill="#b9b9b9" stroke="none"/>
<path d="M17.10,390.91 L17.50,390.86 L17.90,390.49 L18.30,389.59 L18.70,388.95 L19.10,389.88 L19.50,388.73 L19.90,389.63 L20.30,390.03 L20.70,389.93 L21.10,389.73 L21.50,388.66 L21.90,388.17 L22.30,388.97 L22.70,388.28 L23.10,389.39 L23.50,388.85 L23.90,388.59 L24.30,387.73 L24.70,387.16 L25.10,386.66 L25.50,386.41 L25.90,385.29 L26.30,386.66 L26.70,385.76 L27.10,383.41 L27.50,385.19 L27.90,382.74 L28.30,383.19 L28.70,379.52 L29.10,381.90 L29.50,381.66 L29.90,381.05 L30.30,382.65 L30.70,382.01 L31.10,379.09 L31.50,377.32 L31.90,376.55 L32.30,375.46 L32.70,376.52 L33.10,372.29 L33.50,370.71 L33.90,369.67 L34.30,369.73 L34.70,371.82 L35.10,368.94 L35.50,366.06 L35.90,369.07 L36.30,367.42 L36.70,364.77 L37.10,362.65 L37.50,365.89 L37.90,369.57 L38.30,364.23 L38.70,366.89 L39.10,368.06 L39.50,368.58 L39.90,370.29 L40.30,367.37 L40.70,371.70 L41.10,369.38 L41.50,371.07 L41.90,370.67 L42.30,374.08 L42.70,375.63 L43.10,377.11 L43.50,378.49 L43.90,382.00 L44.30,383.67 L44.70,384.79 L45.10,385.83 L45.50,385.84 L45.90,387.16 L46.30,387.37 L46.70,388.71 L47.10,387.98 L47.50,389.57 L47.90,389.54 L48.30,390.95 L48.70,389.30 L49.10,389.70 L49.50,390.57 L49.90,390.51 L50.30,390.68 L50.70,391.07 L51.10,391.66 L51.50,389.79 L51.90,391.32 L52.30,389.77 L52.70,390.60 L53.10,390.16 L53.50,389.23 L53.90,390.05 L54.30,389.38 L54.70,389.26 L55.10,388.91 L55.50,389.33 L55.90,388.34 L56.30,389.06 L56.70,388.10 L57.10,387.00 L57.50,388.37 L57.90,388.29 L58.30,387.62 L58.70,388.97 L59.10,389.12 L59.50,386.38 L59.90,387.00 L60.30,387.63 L60.70,388.70 L61.10,387.99 L61.50,389.13 L61.90,387.99 L62.30,388.84 L62.70,389.11 L63.10,387.97 L63.50,389.71 L63.90,390.10 L64.30,388.43 L64.70,390.61 L65.10,388.77 L65.50,389.62 L65.90,388.25 L66.30,389.14 L66.70,389.10 L67.10,389.32 L67.50,389.23 L67.90,389.91 L68.30,390.29 L68.70,391.53 L69.10,388.87 L69.50,390.62 L69.90,390.11 L70.30,389.60 L70.70,389.81 L71.10,390.75 L71.50,391.24 L71.90,390.10 L72.30,390.05 L72.70,390.23 L73.10,391.17 L73.50,391.26 L73.90,390.77 L74.30,390.90 L74.70,391.94 L75.10,391.54 L75.50,391.68 L75.90,390.86 L76.30,391.06 L76.70,391.70 L77.10,391.78 L77.50,391.94 L77.90,392.00 L78.30,391.51 L78.70,391.30 L79.10,392.10 L79.50,392.10 L79.90,392.10 L80.30,392.10 L80.70,392.10 L81.10,392.10 L81.50,392.10 L81.90,392.10 L82.30,392.10 L82.70,392.10 L83.10,392.10 L83.50,392.10 L83.90,392.10 L84.30,392.10 L84.70,392.10 L85.10,392.10 L85.50,392.10 L85.90,392.10 L86.30,392.10 L86.70,392.10 L87.10,392.10 L87.50,392.10 L87.90,392.10 L88.30,392.10 L88.70,392.10 L89.10,392.10 L89.50,392.10 L89.90,392.10 L90.30,392.10 L90.70,392.10 L91.10,392.10 L91.50,392.10 L91.90,392.10 L92.30,392.10 L92.70,392.10 L93.10,392.10 L93.50,392.10 L93.90,392.10 L94.30,392.10 L94.70,392.10 L95.10,392.10 L95.50,392.10 L95.90,392.10 L96.30,392.10 L96.70,392.10 L97.10,392.10 L97.50,392.10 L97.90,392.10 L98.30,392.10 L98.70,392.10 L99.10,392.10 L99.50,392.10 L99.90,392.10 L100.30,392.10 L100.70,392.10 L101.10,392.10 L101.50,392.10 L101.90,392.10 L102.30,392.10 L102.70,392.10 L103.10,392.10 L103.50,392.10 L103.90,392.10 L104.30,392.10 L104.70,392.10 L105.10,392.10 L105.50,392.10 L105.90,392.10 L106.30,392.10 L106.70,392.10 L107.10,392.10 L107.50,392.10 L107.90,392.10 L108.30,392.10 L108.70,392.10 L109.10,392.10 L109.50,392.10 L109.90,392.10 L110.30,392.10 L110.70,392.10 L111.10,392.10 L111.50,392.10 L111.90,392.10 L112.30,392.10 L112.70,392.10 L113.10,392.10 L113.50,392.10 L113.90,392.10 L114.30,392.10 L114.70,392.10 L115.10,392.10 L115.50,392.10 L115.90,392.10 L116.30,392.10 L116.70,392.10 L117.10,392.10 L117.50,392.10 L117.90,392.10 L118.30,392.10 L118.70,392.10 L119.10,392.10 L119.50,392.10 L119.90,392.10 L120.30,392.10 L120.70,392.10 L121.10,392.10 L121.50,392.10 L121.90,392.10 L122.30,392.10 L122.70,392.10 L123.10,392.10 L123.50,392.10 L123.90,392.10" fill="none" stroke="#0d0d0d" stroke-width="1.45" stroke-linejoin="round"/>
<line x1="14.30" y1="392.10" x2="124.70" y2="392.10" stroke="#222" stroke-width="1.0" />
<line x1="16.30" y1="392.10" x2="16.30" y2="394.30" stroke="#333" stroke-width="0.8" />
<line x1="24.46" y1="392.10" x2="24.46" y2="393.30" stroke="#333" stroke-width="0.8" />
<line x1="29.23" y1="392.10" x2="29.23" y2="393.30" stroke="#333" stroke-width="0.8" />
<line x1="32.62" y1="392.10" x2="32.62" y2="393.30" stroke="#333" stroke-width="0.8" />
<line x1="35.24" y1="392.10" x2="35.24" y2="393.30" stroke="#333" stroke-width="0.8" />
<line x1="37.39" y1="392.10" x2="37.39" y2="393.30" stroke="#333" stroke-width="0.8" />
<line x1="39.20" y1="392.10" x2="39.20" y2="393.30" stroke="#333" stroke-width="0.8" />
<line x1="40.77" y1="392.10" x2="40.77" y2="393.30" stroke="#333" stroke-width="0.8" />
<line x1="42.16" y1="392.10" x2="42.16" y2="393.30" stroke="#333" stroke-width="0.8" />
<line x1="43.40" y1="392.10" x2="43.40" y2="394.30" stroke="#333" stroke-width="0.8" />
<line x1="51.56" y1="392.10" x2="51.56" y2="393.30" stroke="#333" stroke-width="0.8" />
<line x1="56.33" y1="392.10" x2="56.33" y2="393.30" stroke="#333" stroke-width="0.8" />
<line x1="59.72" y1="392.10" x2="59.72" y2="393.30" stroke="#333" stroke-width="0.8" />
<line x1="62.34" y1="392.10" x2="62.34" y2="393.30" stroke="#333" stroke-width="0.8" />
<line x1="64.49" y1="392.10" x2="64.49" y2="393.30" stroke="#333" stroke-width="0.8" />
<line x1="66.30" y1="392.10" x2="66.30" y2="393.30" stroke="#333" stroke-width="0.8" />
<line x1="67.87" y1="392.10" x2="67.87" y2="393.30" stroke="#333" stroke-width="0.8" />
<line x1="69.26" y1="392.10" x2="69.26" y2="393.30" stroke="#333" stroke-width="0.8" />
<line x1="70.50" y1="392.10" x2="70.50" y2="394.30" stroke="#333" stroke-width="0.8" />
<line x1="78.66" y1="392.10" x2="78.66" y2="393.30" stroke="#333" stroke-width="0.8" />
<line x1="83.43" y1="392.10" x2="83.43" y2="393.30" stroke="#333" stroke-width="0.8" />
<line x1="86.82" y1="392.10" x2="86.82" y2="393.30" stroke="#333" stroke-width="0.8" />
<line x1="89.44" y1="392.10" x2="89.44" y2="393.30" stroke="#333" stroke-width="0.8" />
<line x1="91.59" y1="392.10" x2="91.59" y2="393.30" stroke="#333" stroke-width="0.8" />
<line x1="93.40" y1="392.10" x2="93.40" y2="393.30" stroke="#333" stroke-width="0.8" />
<line x1="94.97" y1="392.10" x2="94.97" y2="393.30" stroke="#333" stroke-width="0.8" />
<line x1="96.36" y1="392.10" x2="96.36" y2="393.30" stroke="#333" stroke-width="0.8" />
<line x1="97.60" y1="392.10" x2="97.60" y2="394.30" stroke="#333" stroke-width="0.8" />
<line x1="105.76" y1="392.10" x2="105.76" y2="393.30" stroke="#333" stroke-width="0.8" />
<line x1="110.53" y1="392.10" x2="110.53" y2="393.30" stroke="#333" stroke-width="0.8" />
<line x1="113.92" y1="392.10" x2="113.92" y2="393.30" stroke="#333" stroke-width="0.8" />
<line x1="116.54" y1="392.10" x2="116.54" y2="393.30" stroke="#333" stroke-width="0.8" />
<line x1="118.69" y1="392.10" x2="118.69" y2="393.30" stroke="#333" stroke-width="0.8" />
<line x1="120.50" y1="392.10" x2="120.50" y2="393.30" stroke="#333" stroke-width="0.8" />
<line x1="122.07" y1="392.10" x2="122.07" y2="393.30" stroke="#333" stroke-width="0.8" />
<line x1="123.46" y1="392.10" x2="123.46" y2="393.30" stroke="#333" stroke-width="0.8" />
<line x1="124.70" y1="392.10" x2="124.70" y2="394.30" stroke="#333" stroke-width="0.8" />
<line x1="16.30" y1="259.50" x2="16.30" y2="394.60" stroke="#222" stroke-width="1.0" />
<line x1="14.30" y1="259.60" x2="16.30" y2="259.60" stroke="#333" stroke-width="0.9" />
<line x1="14.30" y1="263.99" x2="16.30" y2="263.99" stroke="#333" stroke-width="0.9" />
<line x1="14.30" y1="268.38" x2="16.30" y2="268.38" stroke="#333" stroke-width="0.9" />
<line x1="14.30" y1="272.77" x2="16.30" y2="272.77" stroke="#333" stroke-width="0.9" />
<line x1="14.30" y1="277.16" x2="16.30" y2="277.16" stroke="#333" stroke-width="0.9" />
<line x1="14.30" y1="281.55" x2="16.30" y2="281.55" stroke="#333" stroke-width="0.9" />
<line x1="14.30" y1="285.94" x2="16.30" y2="285.94" stroke="#333" stroke-width="0.9" />
<line x1="14.30" y1="290.33" x2="16.30" y2="290.33" stroke="#333" stroke-width="0.9" />
<line x1="14.30" y1="294.72" x2="16.30" y2="294.72" stroke="#333" stroke-width="0.9" />
<line x1="14.30" y1="299.11" x2="16.30" y2="299.11" stroke="#333" stroke-width="0.9" />
<line x1="14.30" y1="303.50" x2="16.30" y2="303.50" stroke="#333" stroke-width="0.9" />
<line x1="14.30" y1="307.98" x2="16.30" y2="307.98" stroke="#333" stroke-width="0.9" />
<line x1="14.30" y1="312.46" x2="16.30" y2="312.46" stroke="#333" stroke-width="0.9" />
<line x1="14.30" y1="316.94" x2="16.30" y2="316.94" stroke="#333" stroke-width="0.9" />
<line x1="14.30" y1="321.42" x2="16.30" y2="321.42" stroke="#333" stroke-width="0.9" />
<line x1="14.30" y1="325.90" x2="16.30" y2="325.90" stroke="#333" stroke-width="0.9" />
<line x1="14.30" y1="330.38" x2="16.30" y2="330.38" stroke="#333" stroke-width="0.9" />
<line x1="14.30" y1="334.86" x2="16.30" y2="334.86" stroke="#333" stroke-width="0.9" />
<line x1="14.30" y1="339.34" x2="16.30" y2="339.34" stroke="#333" stroke-width="0.9" />
<line x1="14.30" y1="343.82" x2="16.30" y2="343.82" stroke="#333" stroke-width="0.9" />
<line x1="14.30" y1="348.30" x2="16.30" y2="348.30" stroke="#333" stroke-width="0.9" />
<line x1="14.30" y1="352.68" x2="16.30" y2="352.68" stroke="#333" stroke-width="0.9" />
<line x1="14.30" y1="357.06" x2="16.30" y2="357.06" stroke="#333" stroke-width="0.9" />
<line x1="14.30" y1="361.44" x2="16.30" y2="361.44" stroke="#333" stroke-width="0.9" />
<line x1="14.30" y1="365.82" x2="16.30" y2="365.82" stroke="#333" stroke-width="0.9" />
<line x1="14.30" y1="370.20" x2="16.30" y2="370.20" stroke="#333" stroke-width="0.9" />
<line x1="14.30" y1="374.58" x2="16.30" y2="374.58" stroke="#333" stroke-width="0.9" />
<line x1="14.30" y1="378.96" x2="16.30" y2="378.96" stroke="#333" stroke-width="0.9" />
<line x1="14.30" y1="383.34" x2="16.30" y2="383.34" stroke="#333" stroke-width="0.9" />
<line x1="14.30" y1="387.72" x2="16.30" y2="387.72" stroke="#333" stroke-width="0.9" />
<line x1="51.30" y1="260.00" x2="51.30" y2="392.10" stroke="#222" stroke-width="1.0" />
<path d="M137.40,303.30 L137.40,303.30 L137.80,303.30 L138.20,303.30 L138.60,303.30 L139.00,303.30 L139.40,303.30 L139.80,303.30 L140.20,303.30 L140.60,303.30 L141.00,303.30 L141.40,303.30 L141.80,303.30 L142.20,303.30 L142.60,303.30 L143.00,303.30 L143.40,303.30 L143.80,303.30 L144.20,303.30 L144.60,303.30 L145.00,303.30 L145.40,303.30 L145.80,303.30 L146.20,303.30 L146.60,303.30 L147.00,303.30 L147.40,303.30 L147.80,303.30 L148.20,303.30 L148.60,303.30 L149.00,303.30 L149.40,303.30 L149.80,303.30 L150.20,303.30 L150.60,303.30 L151.00,303.30 L151.40,303.30 L151.80,303.30 L152.20,303.30 L152.60,303.30 L153.00,303.30 L153.40,303.30 L153.80,303.30 L154.20,303.30 L154.60,303.30 L155.00,303.30 L155.40,303.30 L155.80,303.30 L156.20,303.30 L156.60,303.30 L157.00,303.30 L157.40,303.30 L157.80,303.30 L158.20,303.30 L158.60,303.30 L159.00,303.30 L159.40,303.30 L159.80,303.30 L160.20,303.30 L160.60,303.30 L161.00,303.30 L161.40,303.30 L161.80,303.30 L162.20,303.30 L162.60,303.30 L163.00,303.30 L163.40,303.30 L163.80,303.30 L164.20,303.30 L164.60,303.30 L165.00,303.30 L165.40,303.30 L165.80,303.30 L166.20,303.30 L166.60,303.30 L167.00,303.30 L167.40,303.30 L167.80,303.30 L168.20,303.30 L168.60,303.30 L169.00,303.30 L169.40,303.30 L169.80,303.30 L170.20,303.30 L170.60,303.30 L171.00,303.30 L171.40,303.30 L171.80,303.30 L172.20,303.23 L172.60,303.10 L173.00,303.30 L173.40,302.73 L173.80,301.95 L174.20,302.38 L174.60,301.84 L175.00,301.34 L175.40,301.42 L175.80,302.33 L176.20,301.19 L176.60,301.23 L177.00,302.70 L177.40,301.78 L177.80,302.38 L178.20,301.28 L178.60,300.58 L179.00,301.59 L179.40,302.13 L179.80,299.42 L180.20,299.91 L180.60,298.86 L181.00,300.83 L181.40,298.76 L181.80,297.75 L182.20,297.59 L182.60,299.17 L183.00,298.58 L183.40,298.73 L183.80,297.57 L184.20,297.30 L184.60,297.83 L185.00,298.80 L185.40,296.73 L185.80,297.51 L186.20,296.28 L186.60,296.33 L187.00,294.84 L187.40,295.00 L187.80,296.18 L188.20,295.18 L188.60,293.60 L189.00,295.47 L189.40,294.29 L189.80,293.31 L190.20,292.97 L190.60,293.40 L191.00,294.91 L191.40,294.59 L191.80,292.86 L192.20,292.45 L192.60,290.04 L193.00,293.16 L193.40,290.89 L193.80,290.99 L194.20,293.20 L194.60,292.07 L195.00,290.80 L195.40,291.21 L195.80,290.59 L196.20,289.71 L196.60,290.85 L197.00,289.31 L197.40,290.27 L197.80,289.98 L198.20,288.63 L198.60,289.61 L199.00,288.49 L199.40,286.88 L199.80,288.37 L200.20,288.41 L200.60,287.35 L201.00,288.45 L201.40,286.77 L201.80,289.25 L202.20,287.07 L202.60,288.21 L203.00,288.42 L203.40,285.51 L203.80,288.28 L204.20,285.47 L204.60,286.88 L205.00,286.22 L205.40,289.06 L205.80,286.90 L206.20,286.83 L206.60,288.73 L207.00,288.94 L207.40,286.38 L207.80,289.01 L208.20,290.21 L208.60,291.35 L209.00,291.18 L209.40,292.24 L209.80,293.33 L210.20,292.80 L210.60,295.67 L211.00,295.88 L211.40,296.45 L211.80,299.91 L212.20,299.72 L212.60,300.66 L213.00,303.30 L213.40,303.30 L213.80,303.30 L214.20,303.30 L214.60,303.30 L215.00,303.30 L215.40,303.30 L215.80,303.30 L216.20,303.30 L216.60,303.30 L217.00,303.30 L217.40,303.30 L217.80,303.30 L218.20,303.30 L218.60,303.30 L219.00,303.30 L219.40,303.30 L219.80,303.30 L220.20,303.30 L220.60,303.30 L221.00,303.30 L221.40,303.30 L221.80,303.30 L222.20,303.30 L222.60,303.30 L223.00,303.30 L223.40,303.30 L223.80,303.30 L224.20,303.30 L224.60,303.30 L225.00,303.30 L225.40,303.30 L225.80,303.30 L226.20,303.30 L226.60,303.30 L227.00,303.30 L227.40,303.30 L227.80,303.30 L228.20,303.30 L228.60,303.30 L229.00,303.30 L229.40,303.30 L229.80,303.30 L230.20,303.30 L230.60,303.30 L231.00,303.30 L231.40,303.30 L231.80,303.30 L232.20,303.30 L232.60,303.30 L233.00,303.30 L233.40,303.30 L233.80,303.30 L234.20,303.30 L234.60,303.30 L235.00,303.30 L235.40,303.30 L235.80,303.30 L236.20,303.30 L236.60,303.30 L237.00,303.30 L237.40,303.30 L237.80,303.30 L238.20,303.30 L238.60,303.30 L239.00,303.30 L239.40,303.30 L239.80,303.30 L240.20,303.30 L240.60,303.30 L241.00,303.30 L241.40,303.30 L241.80,303.30 L242.20,303.30 L242.60,303.30 L243.00,303.30 L243.40,303.30 L243.80,303.30 L244.20,303.30 L244.20,303.30 Z" fill="#b9b9b9" stroke="none"/>
<path d="M137.40,303.30 L137.80,303.30 L138.20,303.30 L138.60,303.30 L139.00,303.30 L139.40,303.30 L139.80,303.30 L140.20,303.30 L140.60,303.30 L141.00,303.30 L141.40,303.30 L141.80,303.30 L142.20,302.45 L142.60,303.30 L143.00,303.30 L143.40,302.93 L143.80,303.29 L144.20,302.74 L144.60,302.75 L145.00,302.28 L145.40,303.30 L145.80,302.31 L146.20,300.38 L146.60,302.38 L147.00,303.30 L147.40,303.30 L147.80,302.19 L148.20,302.72 L148.60,301.34 L149.00,302.46 L149.40,303.30 L149.80,300.47 L150.20,302.57 L150.60,302.85 L151.00,303.30 L151.40,300.85 L151.80,303.30 L152.20,302.72 L152.60,303.30 L153.00,301.65 L153.40,301.68 L153.80,303.17 L154.20,303.30 L154.60,302.11 L155.00,302.41 L155.40,300.88 L155.80,301.58 L156.20,303.30 L156.60,301.97 L157.00,300.75 L157.40,299.82 L157.80,302.21 L158.20,299.61 L158.60,302.04 L159.00,301.44 L159.40,302.49 L159.80,301.24 L160.20,301.69 L160.60,299.82 L161.00,299.40 L161.40,300.56 L161.80,300.88 L162.20,300.64 L162.60,299.82 L163.00,299.96 L163.40,297.41 L163.80,294.91 L164.20,298.07 L164.60,302.28 L165.00,297.58 L165.40,302.07 L165.80,300.72 L166.20,298.97 L166.60,297.67 L167.00,293.91 L167.40,297.61 L167.80,296.96 L168.20,297.81 L168.60,294.44 L169.00,297.05 L169.40,297.04 L169.80,296.57 L170.20,295.05 L170.60,299.49 L171.00,297.37 L171.40,298.84 L171.80,291.72 L172.20,297.05 L172.60,295.80 L173.00,296.78 L173.40,293.69 L173.80,289.18 L174.20,297.59 L174.60,296.42 L175.00,294.57 L175.40,297.05 L175.80,296.79 L176.20,293.61 L176.60,293.91 L177.00,292.37 L177.40,295.47 L177.80,298.22 L178.20,289.45 L178.60,294.25 L179.00,297.91 L179.40,291.02 L179.80,297.13 L180.20,295.89 L180.60,290.64 L181.00,292.34 L181.40,285.62 L181.80,296.76 L182.20,289.50 L182.60,293.98 L183.00,289.93 L183.40,294.78 L183.80,288.00 L184.20,288.94 L184.60,290.42 L185.00,296.40 L185.40,291.31 L185.80,292.49 L186.20,289.52 L186.60,294.19 L187.00,287.47 L187.40,293.38 L187.80,284.05 L188.20,291.99 L188.60,289.80 L189.00,289.01 L189.40,288.64 L189.80,290.21 L190.20,284.04 L190.60,287.36 L191.00,283.71 L191.40,284.18 L191.80,288.77 L192.20,286.28 L192.60,280.13 L193.00,286.26 L193.40,286.07 L193.80,280.22 L194.20,284.65 L194.60,290.68 L195.00,282.83 L195.40,284.13 L195.80,280.64 L196.20,283.00 L196.60,274.07 L197.00,286.29 L197.40,278.16 L197.80,278.40 L198.20,288.76 L198.60,289.76 L199.00,285.32 L199.40,282.30 L199.80,283.19 L200.20,282.28 L200.60,277.20 L201.00,282.39 L201.40,283.54 L201.80,284.65 L202.20,281.59 L202.60,289.37 L203.00,276.60 L203.40,284.71 L203.80,282.17 L204.20,280.77 L204.60,282.57 L205.00,277.18 L205.40,282.94 L205.80,282.69 L206.20,277.98 L206.60,286.57 L207.00,285.63 L207.40,284.25 L207.80,287.42 L208.20,287.90 L208.60,290.08 L209.00,285.71 L209.40,283.22 L209.80,287.16 L210.20,288.44 L210.60,292.58 L211.00,292.93 L211.40,288.99 L211.80,296.67 L212.20,295.54 L212.60,295.63 L213.00,297.12 L213.40,297.20 L213.80,296.40 L214.20,298.62 L214.60,298.33 L215.00,299.40 L215.40,300.59 L215.80,298.24 L216.20,299.91 L216.60,298.42 L217.00,300.96 L217.40,298.96 L217.80,301.65 L218.20,303.30 L218.60,300.97 L219.00,301.67 L219.40,301.73 L219.80,302.26 L220.20,302.14 L220.60,303.30 L221.00,302.78 L221.40,303.30 L221.80,303.30 L222.20,301.77 L222.60,303.30 L223.00,303.30 L223.40,303.30 L223.80,303.30 L224.20,303.30 L224.60,303.30 L225.00,303.30 L225.40,303.30 L225.80,303.30 L226.20,303.30 L226.60,303.30 L227.00,303.30 L227.40,303.30 L227.80,303.30 L228.20,303.30 L228.60,303.30 L229.00,303.30 L229.40,303.30 L229.80,303.30 L230.20,303.30 L230.60,303.30 L231.00,303.30 L231.40,303.30 L231.80,303.30 L232.20,303.30 L232.60,303.30 L233.00,303.30 L233.40,303.30 L233.80,303.30 L234.20,303.30 L234.60,303.30 L235.00,303.30 L235.40,303.30 L235.80,303.30 L236.20,303.30 L236.60,303.30 L237.00,303.30 L237.40,303.30 L237.80,303.30 L238.20,303.30 L238.60,303.30 L239.00,303.30 L239.40,303.30 L239.80,303.30 L240.20,303.30 L240.60,303.30 L241.00,303.30 L241.40,303.30 L241.80,303.30 L242.20,303.30 L242.60,303.30 L243.00,303.30 L243.40,303.30 L243.80,303.30 L244.20,303.30" fill="none" stroke="#0d0d0d" stroke-width="1.45" stroke-linejoin="round"/>
<line x1="134.60" y1="303.30" x2="244.90" y2="303.30" stroke="#222" stroke-width="1.0" />
<line x1="136.60" y1="303.30" x2="136.60" y2="305.50" stroke="#333" stroke-width="0.8" />
<line x1="144.75" y1="303.30" x2="144.75" y2="304.50" stroke="#333" stroke-width="0.8" />
<line x1="149.52" y1="303.30" x2="149.52" y2="304.50" stroke="#333" stroke-width="0.8" />
<line x1="152.90" y1="303.30" x2="152.90" y2="304.50" stroke="#333" stroke-width="0.8" />
<line x1="155.52" y1="303.30" x2="155.52" y2="304.50" stroke="#333" stroke-width="0.8" />
<line x1="157.67" y1="303.30" x2="157.67" y2="304.50" stroke="#333" stroke-width="0.8" />
<line x1="159.48" y1="303.30" x2="159.48" y2="304.50" stroke="#333" stroke-width="0.8" />
<line x1="161.05" y1="303.30" x2="161.05" y2="304.50" stroke="#333" stroke-width="0.8" />
<line x1="162.44" y1="303.30" x2="162.44" y2="304.50" stroke="#333" stroke-width="0.8" />
<line x1="163.68" y1="303.30" x2="163.68" y2="305.50" stroke="#333" stroke-width="0.8" />
<line x1="171.83" y1="303.30" x2="171.83" y2="304.50" stroke="#333" stroke-width="0.8" />
<line x1="176.59" y1="303.30" x2="176.59" y2="304.50" stroke="#333" stroke-width="0.8" />
<line x1="179.98" y1="303.30" x2="179.98" y2="304.50" stroke="#333" stroke-width="0.8" />
<line x1="182.60" y1="303.30" x2="182.60" y2="304.50" stroke="#333" stroke-width="0.8" />
<line x1="184.74" y1="303.30" x2="184.74" y2="304.50" stroke="#333" stroke-width="0.8" />
<line x1="186.56" y1="303.30" x2="186.56" y2="304.50" stroke="#333" stroke-width="0.8" />
<line x1="188.13" y1="303.30" x2="188.13" y2="304.50" stroke="#333" stroke-width="0.8" />
<line x1="189.51" y1="303.30" x2="189.51" y2="304.50" stroke="#333" stroke-width="0.8" />
<line x1="190.75" y1="303.30" x2="190.75" y2="305.50" stroke="#333" stroke-width="0.8" />
<line x1="198.90" y1="303.30" x2="198.90" y2="304.50" stroke="#333" stroke-width="0.8" />
<line x1="203.67" y1="303.30" x2="203.67" y2="304.50" stroke="#333" stroke-width="0.8" />
<line x1="207.05" y1="303.30" x2="207.05" y2="304.50" stroke="#333" stroke-width="0.8" />
<line x1="209.67" y1="303.30" x2="209.67" y2="304.50" stroke="#333" stroke-width="0.8" />
<line x1="211.82" y1="303.30" x2="211.82" y2="304.50" stroke="#333" stroke-width="0.8" />
<line x1="213.63" y1="303.30" x2="213.63" y2="304.50" stroke="#333" stroke-width="0.8" />
<line x1="215.20" y1="303.30" x2="215.20" y2="304.50" stroke="#333" stroke-width="0.8" />
<line x1="216.59" y1="303.30" x2="216.59" y2="304.50" stroke="#333" stroke-width="0.8" />
<line x1="217.82" y1="303.30" x2="217.82" y2="305.50" stroke="#333" stroke-width="0.8" />
<line x1="225.98" y1="303.30" x2="225.98" y2="304.50" stroke="#333" stroke-width="0.8" />
<line x1="230.74" y1="303.30" x2="230.74" y2="304.50" stroke="#333" stroke-width="0.8" />
<line x1="234.13" y1="303.30" x2="234.13" y2="304.50" stroke="#333" stroke-width="0.8" />
<line x1="236.75" y1="303.30" x2="236.75" y2="304.50" stroke="#333" stroke-width="0.8" />
<line x1="238.89" y1="303.30" x2="238.89" y2="304.50" stroke="#333" stroke-width="0.8" />
<line x1="240.71" y1="303.30" x2="240.71" y2="304.50" stroke="#333" stroke-width="0.8" />
<line x1="242.28" y1="303.30" x2="242.28" y2="304.50" stroke="#333" stroke-width="0.8" />
<line x1="243.66" y1="303.30" x2="243.66" y2="304.50" stroke="#333" stroke-width="0.8" />
<line x1="244.90" y1="303.30" x2="244.90" y2="305.50" stroke="#333" stroke-width="0.8" />
<path d="M137.40,347.50 L137.40,347.50 L137.80,347.50 L138.20,347.50 L138.60,347.50 L139.00,347.50 L139.40,347.50 L139.80,347.50 L140.20,347.50 L140.60,347.50 L141.00,347.50 L141.40,347.50 L141.80,347.50 L142.20,347.50 L142.60,347.50 L143.00,347.50 L143.40,347.50 L143.80,347.50 L144.20,347.50 L144.60,347.50 L145.00,347.50 L145.40,347.50 L145.80,347.50 L146.20,347.50 L146.60,347.50 L147.00,347.50 L147.40,347.50 L147.80,347.50 L148.20,347.50 L148.60,347.50 L149.00,347.50 L149.40,347.50 L149.80,347.50 L150.20,347.50 L150.60,347.50 L151.00,347.50 L151.40,347.50 L151.80,347.50 L152.20,347.50 L152.60,347.50 L153.00,347.50 L153.40,347.50 L153.80,347.50 L154.20,347.50 L154.60,347.50 L155.00,347.50 L155.40,347.50 L155.80,347.50 L156.20,347.50 L156.60,347.50 L157.00,347.50 L157.40,347.50 L157.80,347.50 L158.20,347.50 L158.60,347.50 L159.00,347.50 L159.40,347.50 L159.80,347.50 L160.20,347.50 L160.60,347.50 L161.00,347.50 L161.40,347.50 L161.80,347.50 L162.20,347.50 L162.60,347.50 L163.00,347.50 L163.40,347.50 L163.80,347.50 L164.20,347.50 L164.60,347.50 L165.00,347.50 L165.40,347.50 L165.80,347.50 L166.20,347.50 L166.60,347.50 L167.00,347.50 L167.40,347.50 L167.80,347.50 L168.20,347.50 L168.60,347.50 L169.00,347.50 L169.40,347.50 L169.80,347.50 L170.20,347.38 L170.60,346.76 L171.00,346.94 L171.40,346.87 L171.80,346.20 L172.20,346.74 L172.60,345.19 L173.00,346.87 L173.40,345.59 L173.80,345.21 L174.20,344.27 L174.60,345.20 L175.00,344.09 L175.40,344.74 L175.80,343.53 L176.20,342.54 L176.60,344.02 L177.00,343.15 L177.40,344.05 L177.80,342.31 L178.20,341.91 L178.60,342.67 L179.00,343.45 L179.40,341.96 L179.80,341.12 L180.20,340.97 L180.60,341.00 L181.00,343.09 L181.40,341.96 L181.80,339.99 L182.20,342.18 L182.60,339.97 L183.00,339.16 L183.40,340.02 L183.80,339.56 L184.20,340.73 L184.60,341.41 L185.00,340.26 L185.40,340.21 L185.80,339.94 L186.20,339.13 L186.60,339.77 L187.00,339.32 L187.40,338.97 L187.80,339.24 L188.20,337.38 L188.60,338.55 L189.00,338.75 L189.40,338.90 L189.80,339.16 L190.20,337.15 L190.60,338.16 L191.00,339.20 L191.40,338.57 L191.80,338.03 L192.20,338.20 L192.60,336.58 L193.00,338.63 L193.40,337.10 L193.80,337.52 L194.20,338.88 L194.60,337.77 L195.00,337.99 L195.40,337.50 L195.80,338.49 L196.20,337.85 L196.60,339.81 L197.00,339.33 L197.40,337.63 L197.80,337.47 L198.20,338.63 L198.60,339.42 L199.00,338.09 L199.40,341.28 L199.80,340.32 L200.20,339.20 L200.60,339.47 L201.00,341.23 L201.40,342.23 L201.80,339.49 L202.20,340.89 L202.60,342.04 L203.00,341.45 L203.40,341.33 L203.80,344.85 L204.20,342.40 L204.60,343.32 L205.00,346.08 L205.40,344.54 L205.80,346.95 L206.20,345.54 L206.60,346.65 L207.00,347.50 L207.40,347.50 L207.80,347.50 L208.20,347.50 L208.60,347.50 L209.00,347.50 L209.40,347.50 L209.80,347.50 L210.20,347.50 L210.60,347.50 L211.00,347.50 L211.40,347.50 L211.80,347.50 L212.20,347.50 L212.60,347.50 L213.00,347.50 L213.40,347.50 L213.80,347.50 L214.20,347.50 L214.60,347.50 L215.00,347.50 L215.40,347.50 L215.80,347.50 L216.20,347.50 L216.60,347.50 L217.00,347.50 L217.40,347.50 L217.80,347.50 L218.20,347.50 L218.60,347.50 L219.00,347.50 L219.40,347.50 L219.80,347.50 L220.20,347.50 L220.60,347.50 L221.00,347.50 L221.40,347.50 L221.80,347.50 L222.20,347.50 L222.60,347.50 L223.00,347.50 L223.40,347.50 L223.80,347.50 L224.20,347.50 L224.60,347.50 L225.00,347.50 L225.40,347.50 L225.80,347.50 L226.20,347.50 L226.60,347.50 L227.00,347.50 L227.40,347.50 L227.80,347.50 L228.20,347.50 L228.60,347.50 L229.00,347.50 L229.40,347.50 L229.80,347.50 L230.20,347.50 L230.60,347.50 L231.00,347.50 L231.40,347.50 L231.80,347.50 L232.20,347.50 L232.60,347.50 L233.00,347.50 L233.40,347.50 L233.80,347.50 L234.20,347.50 L234.60,347.50 L235.00,347.50 L235.40,347.50 L235.80,347.50 L236.20,347.50 L236.60,347.50 L237.00,347.50 L237.40,347.50 L237.80,347.50 L238.20,347.50 L238.60,347.50 L239.00,347.50 L239.40,347.50 L239.80,347.50 L240.20,347.50 L240.60,347.50 L241.00,347.50 L241.40,347.50 L241.80,347.50 L242.20,347.50 L242.60,347.50 L243.00,347.50 L243.40,347.50 L243.80,347.50 L244.20,347.50 L244.20,347.50 Z" fill="#b9b9b9" stroke="none"/>
<path d="M137.40,347.50 L137.80,347.50 L138.20,347.50 L138.60,347.50 L139.00,347.50 L139.40,347.50 L139.80,347.50 L140.20,347.50 L140.60,347.50 L141.00,347.50 L141.40,347.50 L141.80,347.50 L142.20,347.50 L142.60,347.50 L143.00,347.50 L143.40,347.50 L143.80,345.29 L144.20,347.50 L144.60,347.49 L145.00,346.22 L145.40,346.90 L145.80,346.67 L146.20,346.24 L146.60,347.50 L147.00,343.47 L147.40,347.50 L147.80,346.96 L148.20,347.35 L148.60,347.15 L149.00,347.11 L149.40,345.67 L149.80,346.78 L150.20,345.42 L150.60,345.46 L151.00,346.60 L151.40,345.20 L151.80,346.00 L152.20,345.99 L152.60,346.60 L153.00,345.56 L153.40,345.53 L153.80,347.50 L154.20,345.79 L154.60,344.59 L155.00,347.29 L155.40,346.95 L155.80,345.55 L156.20,344.01 L156.60,344.05 L157.00,345.00 L157.40,346.47 L157.80,345.24 L158.20,345.02 L158.60,339.18 L159.00,343.82 L159.40,342.50 L159.80,342.32 L160.20,342.66 L160.60,341.31 L161.00,341.92 L161.40,341.55 L161.80,342.71 L162.20,343.53 L162.60,340.41 L163.00,343.71 L163.40,339.38 L163.80,332.73 L164.20,336.79 L164.60,345.41 L165.00,339.78 L165.40,338.90 L165.80,344.10 L166.20,342.06 L166.60,339.03 L167.00,341.85 L167.40,337.93 L167.80,338.68 L168.20,343.76 L168.60,338.85 L169.00,337.86 L169.40,340.36 L169.80,339.98 L170.20,337.15 L170.60,342.93 L171.00,342.06 L171.40,337.15 L171.80,344.27 L172.20,339.14 L172.60,336.48 L173.00,339.15 L173.40,340.70 L173.80,337.67 L174.20,335.77 L174.60,340.02 L175.00,340.49 L175.40,337.20 L175.80,334.50 L176.20,342.76 L176.60,344.07 L177.00,344.00 L177.40,338.01 L177.80,339.81 L178.20,337.11 L178.60,340.63 L179.00,339.51 L179.40,341.76 L179.80,338.65 L180.20,336.50 L180.60,338.52 L181.00,336.75 L181.40,338.32 L181.80,337.64 L182.20,333.46 L182.60,335.05 L183.00,335.58 L183.40,335.51 L183.80,338.43 L184.20,336.91 L184.60,336.67 L185.00,335.19 L185.40,330.80 L185.80,334.16 L186.20,331.37 L186.60,329.86 L187.00,331.90 L187.40,330.48 L187.80,328.80 L188.20,334.19 L188.60,333.74 L189.00,335.63 L189.40,328.13 L189.80,330.50 L190.20,330.87 L190.60,331.92 L191.00,329.77 L191.40,333.38 L191.80,326.27 L192.20,330.75 L192.60,328.40 L193.00,335.70 L193.40,329.49 L193.80,330.00 L194.20,336.21 L194.60,329.98 L195.00,330.60 L195.40,335.19 L195.80,331.76 L196.20,330.85 L196.60,334.39 L197.00,330.46 L197.40,334.29 L197.80,332.72 L198.20,336.01 L198.60,333.59 L199.00,335.44 L199.40,335.19 L199.80,334.03 L200.20,333.37 L200.60,336.30 L201.00,338.40 L201.40,337.21 L201.80,339.34 L202.20,342.58 L202.60,334.84 L203.00,340.87 L203.40,339.77 L203.80,340.61 L204.20,342.16 L204.60,342.08 L205.00,340.41 L205.40,341.10 L205.80,342.77 L206.20,342.77 L206.60,339.54 L207.00,344.33 L207.40,343.83 L207.80,342.03 L208.20,340.89 L208.60,342.45 L209.00,343.00 L209.40,344.67 L209.80,344.19 L210.20,343.32 L210.60,343.56 L211.00,343.40 L211.40,346.85 L211.80,343.59 L212.20,345.33 L212.60,346.99 L213.00,345.59 L213.40,346.52 L213.80,344.50 L214.20,346.40 L214.60,346.19 L215.00,345.94 L215.40,347.03 L215.80,346.07 L216.20,345.90 L216.60,346.06 L217.00,345.23 L217.40,346.97 L217.80,345.98 L218.20,345.34 L218.60,347.14 L219.00,347.50 L219.40,347.50 L219.80,347.50 L220.20,347.50 L220.60,347.50 L221.00,347.50 L221.40,347.50 L221.80,347.50 L222.20,347.50 L222.60,347.50 L223.00,347.50 L223.40,347.50 L223.80,347.50 L224.20,347.50 L224.60,347.50 L225.00,347.50 L225.40,347.50 L225.80,347.50 L226.20,347.50 L226.60,347.50 L227.00,347.50 L227.40,347.50 L227.80,347.50 L228.20,347.50 L228.60,347.50 L229.00,347.50 L229.40,347.50 L229.80,347.50 L230.20,347.50 L230.60,347.50 L231.00,347.50 L231.40,347.50 L231.80,347.50 L232.20,347.50 L232.60,347.50 L233.00,347.50 L233.40,347.50 L233.80,347.50 L234.20,347.50 L234.60,347.50 L235.00,347.50 L235.40,347.50 L235.80,347.50 L236.20,347.50 L236.60,347.50 L237.00,347.50 L237.40,347.50 L237.80,347.50 L238.20,347.50 L238.60,347.50 L239.00,347.50 L239.40,347.50 L239.80,347.50 L240.20,347.50 L240.60,347.50 L241.00,347.50 L241.40,347.50 L241.80,347.50 L242.20,347.50 L242.60,347.50 L243.00,347.50 L243.40,347.50 L243.80,347.50 L244.20,347.50" fill="none" stroke="#0d0d0d" stroke-width="1.45" stroke-linejoin="round"/>
<line x1="134.60" y1="347.50" x2="244.90" y2="347.50" stroke="#222" stroke-width="1.0" />
<line x1="136.60" y1="347.50" x2="136.60" y2="349.70" stroke="#333" stroke-width="0.8" />
<line x1="144.75" y1="347.50" x2="144.75" y2="348.70" stroke="#333" stroke-width="0.8" />
<line x1="149.52" y1="347.50" x2="149.52" y2="348.70" stroke="#333" stroke-width="0.8" />
<line x1="152.90" y1="347.50" x2="152.90" y2="348.70" stroke="#333" stroke-width="0.8" />
<line x1="155.52" y1="347.50" x2="155.52" y2="348.70" stroke="#333" stroke-width="0.8" />
<line x1="157.67" y1="347.50" x2="157.67" y2="348.70" stroke="#333" stroke-width="0.8" />
<line x1="159.48" y1="347.50" x2="159.48" y2="348.70" stroke="#333" stroke-width="0.8" />
<line x1="161.05" y1="347.50" x2="161.05" y2="348.70" stroke="#333" stroke-width="0.8" />
<line x1="162.44" y1="347.50" x2="162.44" y2="348.70" stroke="#333" stroke-width="0.8" />
<line x1="163.68" y1="347.50" x2="163.68" y2="349.70" stroke="#333" stroke-width="0.8" />
<line x1="171.83" y1="347.50" x2="171.83" y2="348.70" stroke="#333" stroke-width="0.8" />
<line x1="176.59" y1="347.50" x2="176.59" y2="348.70" stroke="#333" stroke-width="0.8" />
<line x1="179.98" y1="347.50" x2="179.98" y2="348.70" stroke="#333" stroke-width="0.8" />
<line x1="182.60" y1="347.50" x2="182.60" y2="348.70" stroke="#333" stroke-width="0.8" />
<line x1="184.74" y1="347.50" x2="184.74" y2="348.70" stroke="#333" stroke-width="0.8" />
<line x1="186.56" y1="347.50" x2="186.56" y2="348.70" stroke="#333" stroke-width="0.8" />
<line x1="188.13" y1="347.50" x2="188.13" y2="348.70" stroke="#333" stroke-width="0.8" />
<line x1="189.51" y1="347.50" x2="189.51" y2="348.70" stroke="#333" stroke-width="0.8" />
<line x1="190.75" y1="347.50" x2="190.75" y2="349.70" stroke="#333" stroke-width="0.8" />
<line x1="198.90" y1="347.50" x2="198.90" y2="348.70" stroke="#333" stroke-width="0.8" />
<line x1="203.67" y1="347.50" x2="203.67" y2="348.70" stroke="#333" stroke-width="0.8" />
<line x1="207.05" y1="347.50" x2="207.05" y2="348.70" stroke="#333" stroke-width="0.8" />
<line x1="209.67" y1="347.50" x2="209.67" y2="348.70" stroke="#333" stroke-width="0.8" />
<line x1="211.82" y1="347.50" x2="211.82" y2="348.70" stroke="#333" stroke-width="0.8" />
<line x1="213.63" y1="347.50" x2="213.63" y2="348.70" stroke="#333" stroke-width="0.8" />
<line x1="215.20" y1="347.50" x2="215.20" y2="348.70" stroke="#333" stroke-width="0.8" />
<line x1="216.59" y1="347.50" x2="216.59" y2="348.70" stroke="#333" stroke-width="0.8" />
<line x1="217.82" y1="347.50" x2="217.82" y2="349.70" stroke="#333" stroke-width="0.8" />
<line x1="225.98" y1="347.50" x2="225.98" y2="348.70" stroke="#333" stroke-width="0.8" />
<line x1="230.74" y1="347.50" x2="230.74" y2="348.70" stroke="#333" stroke-width="0.8" />
<line x1="234.13" y1="347.50" x2="234.13" y2="348.70" stroke="#333" stroke-width="0.8" />
<line x1="236.75" y1="347.50" x2="236.75" y2="348.70" stroke="#333" stroke-width="0.8" />
<line x1="238.89" y1="347.50" x2="238.89" y2="348.70" stroke="#333" stroke-width="0.8" />
<line x1="240.71" y1="347.50" x2="240.71" y2="348.70" stroke="#333" stroke-width="0.8" />
<line x1="242.28" y1="347.50" x2="242.28" y2="348.70" stroke="#333" stroke-width="0.8" />
<line x1="243.66" y1="347.50" x2="243.66" y2="348.70" stroke="#333" stroke-width="0.8" />
<line x1="244.90" y1="347.50" x2="244.90" y2="349.70" stroke="#333" stroke-width="0.8" />
<path d="M137.40,391.50 L137.40,391.50 L137.80,391.50 L138.20,391.50 L138.60,391.50 L139.00,391.50 L139.40,391.50 L139.80,391.50 L140.20,391.50 L140.60,391.50 L141.00,391.50 L141.40,391.50 L141.80,391.50 L142.20,391.50 L142.60,391.50 L143.00,391.50 L143.40,391.50 L143.80,391.50 L144.20,391.50 L144.60,391.50 L145.00,391.50 L145.40,391.50 L145.80,391.50 L146.20,391.50 L146.60,391.50 L147.00,391.50 L147.40,391.50 L147.80,391.50 L148.20,391.50 L148.60,391.50 L149.00,391.50 L149.40,391.50 L149.80,391.50 L150.20,391.50 L150.60,391.50 L151.00,391.50 L151.40,391.50 L151.80,391.50 L152.20,391.50 L152.60,391.50 L153.00,391.50 L153.40,391.50 L153.80,391.50 L154.20,391.50 L154.60,391.50 L155.00,391.50 L155.40,391.50 L155.80,391.50 L156.20,391.50 L156.60,391.50 L157.00,391.50 L157.40,391.50 L157.80,391.50 L158.20,391.50 L158.60,391.50 L159.00,391.50 L159.40,391.50 L159.80,391.50 L160.20,391.50 L160.60,391.50 L161.00,391.50 L161.40,391.50 L161.80,391.50 L162.20,391.50 L162.60,391.50 L163.00,391.50 L163.40,391.50 L163.80,391.50 L164.20,391.50 L164.60,391.50 L165.00,391.50 L165.40,391.50 L165.80,391.50 L166.20,391.50 L166.60,391.50 L167.00,391.50 L167.40,391.50 L167.80,391.50 L168.20,391.50 L168.60,391.50 L169.00,391.50 L169.40,391.50 L169.80,391.50 L170.20,391.50 L170.60,391.50 L171.00,391.50 L171.40,391.50 L171.80,391.50 L172.20,391.50 L172.60,391.50 L173.00,391.50 L173.40,391.50 L173.80,391.50 L174.20,391.50 L174.60,391.50 L175.00,391.50 L175.40,391.50 L175.80,391.50 L176.20,391.50 L176.60,391.50 L177.00,391.50 L177.40,391.50 L177.80,391.50 L178.20,391.50 L178.60,391.50 L179.00,391.50 L179.40,391.50 L179.80,391.50 L180.20,391.50 L180.60,391.50 L181.00,391.50 L181.40,391.50 L181.80,391.50 L182.20,391.50 L182.60,391.50 L183.00,391.50 L183.40,391.50 L183.80,391.50 L184.20,391.50 L184.60,391.50 L185.00,391.50 L185.40,391.50 L185.80,391.50 L186.20,391.50 L186.60,391.50 L187.00,391.50 L187.40,391.50 L187.80,391.50 L188.20,391.50 L188.60,391.50 L189.00,391.50 L189.40,391.50 L189.80,391.50 L190.20,391.50 L190.60,391.50 L191.00,391.50 L191.40,391.50 L191.80,391.50 L192.20,391.50 L192.60,391.50 L193.00,391.50 L193.40,391.50 L193.80,391.50 L194.20,391.50 L194.60,391.50 L195.00,391.50 L195.40,391.50 L195.80,391.50 L196.20,391.50 L196.60,391.50 L197.00,391.50 L197.40,391.50 L197.80,391.50 L198.20,391.30 L198.60,389.73 L199.00,390.16 L199.40,390.26 L199.80,389.84 L200.20,389.29 L200.60,388.54 L201.00,388.37 L201.40,388.62 L201.80,386.57 L202.20,387.99 L202.60,385.82 L203.00,385.84 L203.40,387.21 L203.80,384.81 L204.20,384.90 L204.60,385.36 L205.00,382.35 L205.40,382.49 L205.80,385.07 L206.20,381.64 L206.60,382.68 L207.00,383.09 L207.40,380.41 L207.80,381.79 L208.20,380.36 L208.60,379.42 L209.00,379.35 L209.40,379.40 L209.80,380.12 L210.20,377.23 L210.60,375.12 L211.00,374.42 L211.40,373.44 L211.80,373.98 L212.20,373.50 L212.60,373.99 L213.00,375.42 L213.40,372.82 L213.80,372.33 L214.20,371.95 L214.60,370.26 L215.00,369.28 L215.40,369.92 L215.80,368.33 L216.20,369.39 L216.60,369.12 L217.00,369.28 L217.40,369.50 L217.80,371.72 L218.20,372.65 L218.60,372.63 L219.00,372.13 L219.40,376.77 L219.80,374.22 L220.20,376.45 L220.60,375.97 L221.00,377.06 L221.40,378.68 L221.80,379.95 L222.20,380.20 L222.60,380.05 L223.00,382.38 L223.40,381.91 L223.80,383.22 L224.20,383.98 L224.60,385.11 L225.00,386.22 L225.40,385.09 L225.80,385.95 L226.20,387.11 L226.60,387.44 L227.00,387.03 L227.40,388.18 L227.80,388.50 L228.20,389.34 L228.60,389.30 L229.00,390.47 L229.40,391.41 L229.80,391.25 L230.20,391.50 L230.60,391.50 L231.00,391.50 L231.40,391.50 L231.80,391.50 L232.20,391.50 L232.60,391.50 L233.00,391.50 L233.40,391.50 L233.80,391.50 L234.20,391.50 L234.60,391.50 L235.00,391.50 L235.40,391.50 L235.80,391.50 L236.20,391.50 L236.60,391.50 L237.00,391.50 L237.40,391.50 L237.80,391.50 L238.20,391.50 L238.60,391.50 L239.00,391.50 L239.40,391.50 L239.80,391.50 L240.20,391.50 L240.60,391.50 L241.00,391.50 L241.40,391.50 L241.80,391.50 L242.20,391.50 L242.60,391.50 L243.00,391.50 L243.40,391.50 L243.80,391.50 L244.20,391.50 L244.20,391.50 Z" fill="#b9b9b9" stroke="none"/>
<path d="M137.40,391.50 L137.80,391.50 L138.20,391.50 L138.60,391.50 L139.00,391.50 L139.40,391.50 L139.80,391.50 L140.20,391.50 L140.60,391.50 L141.00,391.50 L141.40,391.50 L141.80,391.50 L142.20,391.50 L142.60,391.50 L143.00,391.50 L143.40,391.50 L143.80,391.50 L144.20,391.50 L144.60,391.50 L145.00,391.50 L145.40,391.50 L145.80,391.50 L146.20,391.50 L146.60,391.50 L147.00,391.50 L147.40,391.50 L147.80,391.50 L148.20,391.50 L148.60,391.50 L149.00,391.50 L149.40,391.50 L149.80,391.50 L150.20,391.50 L150.60,391.50 L151.00,391.50 L151.40,391.50 L151.80,391.50 L152.20,391.50 L152.60,391.50 L153.00,391.50 L153.40,391.50 L153.80,391.50 L154.20,391.50 L154.60,391.50 L155.00,391.50 L155.40,391.50 L155.80,391.50 L156.20,391.50 L156.60,391.50 L157.00,391.50 L157.40,391.50 L157.80,391.50 L158.20,391.50 L158.60,391.50 L159.00,391.50 L159.40,391.50 L159.80,391.50 L160.20,391.50 L160.60,391.50 L161.00,391.50 L161.40,391.50 L161.80,391.50 L162.20,391.50 L162.60,391.50 L163.00,391.50 L163.40,391.50 L163.80,391.50 L164.20,391.50 L164.60,391.50 L165.00,391.50 L165.40,391.50 L165.80,391.50 L166.20,391.50 L166.60,391.50 L167.00,391.50 L167.40,391.50 L167.80,391.50 L168.20,391.50 L168.60,391.50 L169.00,391.50 L169.40,391.50 L169.80,391.50 L170.20,391.50 L170.60,391.50 L171.00,391.50 L171.40,391.50 L171.80,391.50 L172.20,391.50 L172.60,391.50 L173.00,391.50 L173.40,391.50 L173.80,391.50 L174.20,391.50 L174.60,391.50 L175.00,391.50 L175.40,391.50 L175.80,391.50 L176.20,391.50 L176.60,391.50 L177.00,391.50 L177.40,391.50 L177.80,391.50 L178.20,391.50 L178.60,391.50 L179.00,391.50 L179.40,390.82 L179.80,390.77 L180.20,389.53 L180.60,390.73 L181.00,389.93 L181.40,390.22 L181.80,390.04 L182.20,390.06 L182.60,390.62 L183.00,390.46 L183.40,391.50 L183.80,391.50 L184.20,388.98 L184.60,389.62 L185.00,390.16 L185.40,389.28 L185.80,389.16 L186.20,389.74 L186.60,389.36 L187.00,390.03 L187.40,389.39 L187.80,387.90 L188.20,387.27 L188.60,389.16 L189.00,387.55 L189.40,389.70 L189.80,389.29 L190.20,387.72 L190.60,388.02 L191.00,387.67 L191.40,390.27 L191.80,383.82 L192.20,383.09 L192.60,384.91 L193.00,386.34 L193.40,387.83 L193.80,387.73 L194.20,386.36 L194.60,387.35 L195.00,388.12 L195.40,386.23 L195.80,384.27 L196.20,385.35 L196.60,384.85 L197.00,382.25 L197.40,385.68 L197.80,383.07 L198.20,385.32 L198.60,385.59 L199.00,386.36 L199.40,382.79 L199.80,384.68 L200.20,384.20 L200.60,381.14 L201.00,384.17 L201.40,383.14 L201.80,384.56 L202.20,383.73 L202.60,383.35 L203.00,382.04 L203.40,383.07 L203.80,382.34 L204.20,380.09 L204.60,380.16 L205.00,382.04 L205.40,380.84 L205.80,382.33 L206.20,379.72 L206.60,377.31 L207.00,377.73 L207.40,378.87 L207.80,380.86 L208.20,377.26 L208.60,377.21 L209.00,373.05 L209.40,370.07 L209.80,371.51 L210.20,370.28 L210.60,372.57 L211.00,371.22 L211.40,371.80 L211.80,366.47 L212.20,372.58 L212.60,371.76 L213.00,366.75 L213.40,368.12 L213.80,366.03 L214.20,369.39 L214.60,367.82 L215.00,361.27 L215.40,360.18 L215.80,359.50 L216.20,362.35 L216.60,364.49 L217.00,363.88 L217.40,362.70 L217.80,364.66 L218.20,366.03 L218.60,361.50 L219.00,363.64 L219.40,368.68 L219.80,368.01 L220.20,371.65 L220.60,373.19 L221.00,371.00 L221.40,371.40 L221.80,373.10 L222.20,375.06 L222.60,378.05 L223.00,375.86 L223.40,381.18 L223.80,376.83 L224.20,380.67 L224.60,379.98 L225.00,380.77 L225.40,381.98 L225.80,384.15 L226.20,381.50 L226.60,383.91 L227.00,383.99 L227.40,383.97 L227.80,385.03 L228.20,385.98 L228.60,384.72 L229.00,389.77 L229.40,384.99 L229.80,386.77 L230.20,389.76 L230.60,388.32 L231.00,388.63 L231.40,386.19 L231.80,390.15 L232.20,388.38 L232.60,390.47 L233.00,389.76 L233.40,388.19 L233.80,389.84 L234.20,388.90 L234.60,390.25 L235.00,389.52 L235.40,390.13 L235.80,390.33 L236.20,391.49 L236.60,390.38 L237.00,390.30 L237.40,390.74 L237.80,391.50 L238.20,391.50 L238.60,391.50 L239.00,391.50 L239.40,391.50 L239.80,391.50 L240.20,391.50 L240.60,391.50 L241.00,391.50 L241.40,391.50 L241.80,391.50 L242.20,391.50 L242.60,391.50 L243.00,391.50 L243.40,391.50 L243.80,391.50 L244.20,391.50" fill="none" stroke="#0d0d0d" stroke-width="1.45" stroke-linejoin="round"/>
<line x1="134.60" y1="391.50" x2="244.90" y2="391.50" stroke="#222" stroke-width="1.0" />
<line x1="136.60" y1="391.50" x2="136.60" y2="393.70" stroke="#333" stroke-width="0.8" />
<line x1="144.75" y1="391.50" x2="144.75" y2="392.70" stroke="#333" stroke-width="0.8" />
<line x1="149.52" y1="391.50" x2="149.52" y2="392.70" stroke="#333" stroke-width="0.8" />
<line x1="152.90" y1="391.50" x2="152.90" y2="392.70" stroke="#333" stroke-width="0.8" />
<line x1="155.52" y1="391.50" x2="155.52" y2="392.70" stroke="#333" stroke-width="0.8" />
<line x1="157.67" y1="391.50" x2="157.67" y2="392.70" stroke="#333" stroke-width="0.8" />
<line x1="159.48" y1="391.50" x2="159.48" y2="392.70" stroke="#333" stroke-width="0.8" />
<line x1="161.05" y1="391.50" x2="161.05" y2="392.70" stroke="#333" stroke-width="0.8" />
<line x1="162.44" y1="391.50" x2="162.44" y2="392.70" stroke="#333" stroke-width="0.8" />
<line x1="163.68" y1="391.50" x2="163.68" y2="393.70" stroke="#333" stroke-width="0.8" />
<line x1="171.83" y1="391.50" x2="171.83" y2="392.70" stroke="#333" stroke-width="0.8" />
<line x1="176.59" y1="391.50" x2="176.59" y2="392.70" stroke="#333" stroke-width="0.8" />
<line x1="179.98" y1="391.50" x2="179.98" y2="392.70" stroke="#333" stroke-width="0.8" />
<line x1="182.60" y1="391.50" x2="182.60" y2="392.70" stroke="#333" stroke-width="0.8" />
<line x1="184.74" y1="391.50" x2="184.74" y2="392.70" stroke="#333" stroke-width="0.8" />
<line x1="186.56" y1="391.50" x2="186.56" y2="392.70" stroke="#333" stroke-width="0.8" />
<line x1="188.13" y1="391.50" x2="188.13" y2="392.70" stroke="#333" stroke-width="0.8" />
<line x1="189.51" y1="391.50" x2="189.51" y2="392.70" stroke="#333" stroke-width="0.8" />
<line x1="190.75" y1="391.50" x2="190.75" y2="393.70" stroke="#333" stroke-width="0.8" />
<line x1="198.90" y1="391.50" x2="198.90" y2="392.70" stroke="#333" stroke-width="0.8" />
<line x1="203.67" y1="391.50" x2="203.67" y2="392.70" stroke="#333" stroke-width="0.8" />
<line x1="207.05" y1="391.50" x2="207.05" y2="392.70" stroke="#333" stroke-width="0.8" />
<line x1="209.67" y1="391.50" x2="209.67" y2="392.70" stroke="#333" stroke-width="0.8" />
<line x1="211.82" y1="391.50" x2="211.82" y2="392.70" stroke="#333" stroke-width="0.8" />
<line x1="213.63" y1="391.50" x2="213.63" y2="392.70" stroke="#333" stroke-width="0.8" />
<line x1="215.20" y1="391.50" x2="215.20" y2="392.70" stroke="#333" stroke-width="0.8" />
<line x1="216.59" y1="391.50" x2="216.59" y2="392.70" stroke="#333" stroke-width="0.8" />
<line x1="217.82" y1="391.50" x2="217.82" y2="393.70" stroke="#333" stroke-width="0.8" />
<line x1="225.98" y1="391.50" x2="225.98" y2="392.70" stroke="#333" stroke-width="0.8" />
<line x1="230.74" y1="391.50" x2="230.74" y2="392.70" stroke="#333" stroke-width="0.8" />
<line x1="234.13" y1="391.50" x2="234.13" y2="392.70" stroke="#333" stroke-width="0.8" />
<line x1="236.75" y1="391.50" x2="236.75" y2="392.70" stroke="#333" stroke-width="0.8" />
<line x1="238.89" y1="391.50" x2="238.89" y2="392.70" stroke="#333" stroke-width="0.8" />
<line x1="240.71" y1="391.50" x2="240.71" y2="392.70" stroke="#333" stroke-width="0.8" />
<line x1="242.28" y1="391.50" x2="242.28" y2="392.70" stroke="#333" stroke-width="0.8" />
<line x1="243.66" y1="391.50" x2="243.66" y2="392.70" stroke="#333" stroke-width="0.8" />
<line x1="244.90" y1="391.50" x2="244.90" y2="393.70" stroke="#333" stroke-width="0.8" />
<line x1="136.60" y1="259.50" x2="136.60" y2="394.00" stroke="#222" stroke-width="1.0" />
<line x1="134.60" y1="259.60" x2="136.60" y2="259.60" stroke="#333" stroke-width="0.9" />
<line x1="134.60" y1="263.97" x2="136.60" y2="263.97" stroke="#333" stroke-width="0.9" />
<line x1="134.60" y1="268.34" x2="136.60" y2="268.34" stroke="#333" stroke-width="0.9" />
<line x1="134.60" y1="272.71" x2="136.60" y2="272.71" stroke="#333" stroke-width="0.9" />
<line x1="134.60" y1="277.08" x2="136.60" y2="277.08" stroke="#333" stroke-width="0.9" />
<line x1="134.60" y1="281.45" x2="136.60" y2="281.45" stroke="#333" stroke-width="0.9" />
<line x1="134.60" y1="285.82" x2="136.60" y2="285.82" stroke="#333" stroke-width="0.9" />
<line x1="134.60" y1="290.19" x2="136.60" y2="290.19" stroke="#333" stroke-width="0.9" />
<line x1="134.60" y1="294.56" x2="136.60" y2="294.56" stroke="#333" stroke-width="0.9" />
<line x1="134.60" y1="298.93" x2="136.60" y2="298.93" stroke="#333" stroke-width="0.9" />
<line x1="134.60" y1="303.30" x2="136.60" y2="303.30" stroke="#333" stroke-width="0.9" />
<line x1="134.60" y1="307.72" x2="136.60" y2="307.72" stroke="#333" stroke-width="0.9" />
<line x1="134.60" y1="312.14" x2="136.60" y2="312.14" stroke="#333" stroke-width="0.9" />
<line x1="134.60" y1="316.56" x2="136.60" y2="316.56" stroke="#333" stroke-width="0.9" />
<line x1="134.60" y1="320.98" x2="136.60" y2="320.98" stroke="#333" stroke-width="0.9" />
<line x1="134.60" y1="325.40" x2="136.60" y2="325.40" stroke="#333" stroke-width="0.9" />
<line x1="134.60" y1="329.82" x2="136.60" y2="329.82" stroke="#333" stroke-width="0.9" />
<line x1="134.60" y1="334.24" x2="136.60" y2="334.24" stroke="#333" stroke-width="0.9" />
<line x1="134.60" y1="338.66" x2="136.60" y2="338.66" stroke="#333" stroke-width="0.9" />
<line x1="134.60" y1="343.08" x2="136.60" y2="343.08" stroke="#333" stroke-width="0.9" />
<line x1="134.60" y1="347.50" x2="136.60" y2="347.50" stroke="#333" stroke-width="0.9" />
<line x1="134.60" y1="351.90" x2="136.60" y2="351.90" stroke="#333" stroke-width="0.9" />
<line x1="134.60" y1="356.30" x2="136.60" y2="356.30" stroke="#333" stroke-width="0.9" />
<line x1="134.60" y1="360.70" x2="136.60" y2="360.70" stroke="#333" stroke-width="0.9" />
<line x1="134.60" y1="365.10" x2="136.60" y2="365.10" stroke="#333" stroke-width="0.9" />
<line x1="134.60" y1="369.50" x2="136.60" y2="369.50" stroke="#333" stroke-width="0.9" />
<line x1="134.60" y1="373.90" x2="136.60" y2="373.90" stroke="#333" stroke-width="0.9" />
<line x1="134.60" y1="378.30" x2="136.60" y2="378.30" stroke="#333" stroke-width="0.9" />
<line x1="134.60" y1="382.70" x2="136.60" y2="382.70" stroke="#333" stroke-width="0.9" />
<line x1="134.60" y1="387.10" x2="136.60" y2="387.10" stroke="#333" stroke-width="0.9" />
<line x1="172.10" y1="260.00" x2="172.10" y2="391.50" stroke="#222" stroke-width="1.0" />
<text class="s" x="14.00" y="399.60" font-size="7.6">10<tspan font-size="6.6" dy="-1.3">0</tspan></text>
<text class="s" x="40.60" y="399.60" font-size="7.6">10<tspan font-size="6.6" dy="-1.3">1</tspan></text>
<text class="s" x="67.00" y="399.60" font-size="7.6">10<tspan font-size="6.6" dy="-1.3">2</tspan></text>
<text class="s" x="94.20" y="399.60" font-size="7.6">10<tspan font-size="6.6" dy="-1.3">3</tspan></text>
<text class="s" x="121.00" y="399.60" font-size="7.6">10<tspan font-size="6.6" dy="-1.3">4</tspan></text>
<text class="s" x="133.50" y="399.60" font-size="7.6">10<tspan font-size="6.6" dy="-1.3">0</tspan></text>
<text class="s" x="160.50" y="399.60" font-size="7.6">10<tspan font-size="6.6" dy="-1.3">1</tspan></text>
<text class="s" x="186.80" y="399.60" font-size="7.6">10<tspan font-size="6.6" dy="-1.3">2</tspan></text>
<text class="s" x="214.20" y="399.60" font-size="7.6">10<tspan font-size="6.6" dy="-1.3">3</tspan></text>
<text class="s" x="241.00" y="399.60" font-size="7.6">10<tspan font-size="6.6" dy="-1.3">4</tspan></text>
<text class="s" x="98.90" y="273.80" font-size="7.6" text-anchor="start" textLength="12.60" lengthAdjust="spacingAndGlyphs" style="stroke-width:0.5px">MFI</text>
<text class="s" x="115.20" y="273.80" font-size="7.6" text-anchor="start" textLength="7.70" lengthAdjust="spacingAndGlyphs" style="stroke-width:0.5px">65</text>
<text class="s" x="98.00" y="280.50" font-size="7.6" text-anchor="start" textLength="17.20" lengthAdjust="spacingAndGlyphs" style="stroke-width:0.5px">43%</text>
<text class="s" x="101.10" y="322.80" font-size="7.6" text-anchor="start" textLength="12.40" lengthAdjust="spacingAndGlyphs" style="stroke-width:0.5px">MFI</text>
<text class="s" x="117.20" y="322.80" font-size="7.6" text-anchor="start" textLength="7.70" lengthAdjust="spacingAndGlyphs" style="stroke-width:0.5px">56</text>
<text class="s" x="100.70" y="329.80" font-size="7.6" text-anchor="start" textLength="16.80" lengthAdjust="spacingAndGlyphs" style="stroke-width:0.5px">38%</text>
<text class="s" x="101.10" y="365.80" font-size="7.6" text-anchor="start" textLength="12.70" lengthAdjust="spacingAndGlyphs" style="stroke-width:0.5px">MFI</text>
<text class="s" x="117.20" y="365.80" font-size="7.6" text-anchor="start" textLength="8.40" lengthAdjust="spacingAndGlyphs" style="stroke-width:0.5px">55</text>
<text class="s" x="101.10" y="373.50" font-size="7.6" text-anchor="start" textLength="16.10" lengthAdjust="spacingAndGlyphs" style="stroke-width:0.5px">13%</text>
<text class="s" x="224.80" y="275.00" font-size="7.6" text-anchor="start" textLength="13.50" lengthAdjust="spacingAndGlyphs" style="stroke-width:0.5px">MFI</text>
<text class="s" x="240.80" y="275.00" font-size="7.6" text-anchor="start" textLength="11.70" lengthAdjust="spacingAndGlyphs" style="stroke-width:0.5px">234</text>
<text class="s" x="224.80" y="281.90" font-size="7.6" text-anchor="start" textLength="17.10" lengthAdjust="spacingAndGlyphs" style="stroke-width:0.5px">91%</text>
<text class="s" x="225.50" y="322.70" font-size="7.6" text-anchor="start" textLength="12.80" lengthAdjust="spacingAndGlyphs" style="stroke-width:0.5px">MFI</text>
<text class="s" x="241.60" y="322.70" font-size="7.6" text-anchor="start" textLength="11.70" lengthAdjust="spacingAndGlyphs" style="stroke-width:0.5px">134</text>
<text class="s" x="225.50" y="329.30" font-size="7.6" text-anchor="start" textLength="16.80" lengthAdjust="spacingAndGlyphs" style="stroke-width:0.5px">83%</text>
<text class="s" x="228.20" y="367.50" font-size="7.6" text-anchor="start" textLength="13.20" lengthAdjust="spacingAndGlyphs" style="stroke-width:0.5px">MFI</text>
<text class="s" x="244.30" y="367.50" font-size="7.6" text-anchor="start" textLength="12.10" lengthAdjust="spacingAndGlyphs" style="stroke-width:0.5px">778</text>
<text class="s" x="228.20" y="374.10" font-size="7.6" text-anchor="start" textLength="16.10" lengthAdjust="spacingAndGlyphs" style="stroke-width:0.5px">99%</text>
<text class="r" font-size="8.6" transform="translate(7.6,302.9) rotate(-90)" textLength="42.7" lengthAdjust="spacingAndGlyphs">CONTROL</text>
<text class="r" font-size="8.6" transform="translate(7.6,343.9) rotate(-90)" textLength="30" lengthAdjust="spacingAndGlyphs">SDF-1&#945;</text>
<text class="r" font-size="8.6" transform="translate(7.6,381.6) rotate(-90)" textLength="16.9" lengthAdjust="spacingAndGlyphs">IL-7</text>
<text class="s" x="56.00" y="413.00" font-size="10.2" text-anchor="start" textLength="32.50" lengthAdjust="spacingAndGlyphs" >CD127</text>
<line x1="20.40" y1="409.30" x2="48.00" y2="409.30" stroke="#222" stroke-width="1.1" />
<line x1="91.00" y1="409.30" x2="120.30" y2="409.30" stroke="#222" stroke-width="1.1" />
<text class="s" x="183.75" y="411.40" font-size="10.2" text-anchor="start" textLength="37.50" lengthAdjust="spacingAndGlyphs" >CXCR4</text>
<line x1="151.25" y1="408.30" x2="178.75" y2="408.30" stroke="#222" stroke-width="1.1" />
<line x1="226.25" y1="408.30" x2="251.25" y2="408.30" stroke="#222" stroke-width="1.1" />
<text class="p" x="276.20" y="218.30" font-size="16.4" text-anchor="start" >D</text>
<line x1="328.70" y1="209.60" x2="328.70" y2="403.50" stroke="#262626" stroke-width="1.4" />
<line x1="328.10" y1="402.90" x2="462.00" y2="402.90" stroke="#262626" stroke-width="1.4" />
<line x1="325.50" y1="402.90" x2="328.70" y2="402.90" stroke="#262626" stroke-width="1.3" />
<text class="s" x="324.40" y="406.90" font-size="11.6" text-anchor="end" textLength="6.20" lengthAdjust="spacingAndGlyphs" >0</text>
<line x1="326.90" y1="389.15" x2="328.70" y2="389.15" stroke="#262626" stroke-width="0.9" />
<line x1="325.50" y1="375.41" x2="328.70" y2="375.41" stroke="#262626" stroke-width="1.3" />
<text class="s" x="324.40" y="379.41" font-size="11.6" text-anchor="end" textLength="18.60" lengthAdjust="spacingAndGlyphs" >100</text>
<line x1="326.90" y1="361.66" x2="328.70" y2="361.66" stroke="#262626" stroke-width="0.9" />
<line x1="325.50" y1="347.92" x2="328.70" y2="347.92" stroke="#262626" stroke-width="1.3" />
<text class="s" x="324.40" y="351.92" font-size="11.6" text-anchor="end" textLength="18.60" lengthAdjust="spacingAndGlyphs" >200</text>
<line x1="326.90" y1="334.17" x2="328.70" y2="334.17" stroke="#262626" stroke-width="0.9" />
<line x1="325.50" y1="320.43" x2="328.70" y2="320.43" stroke="#262626" stroke-width="1.3" />
<text class="s" x="324.40" y="324.43" font-size="11.6" text-anchor="end" textLength="18.60" lengthAdjust="spacingAndGlyphs" >300</text>
<line x1="326.90" y1="306.69" x2="328.70" y2="306.69" stroke="#262626" stroke-width="0.9" />
<line x1="325.50" y1="292.94" x2="328.70" y2="292.94" stroke="#262626" stroke-width="1.3" />
<text class="s" x="324.40" y="296.94" font-size="11.6" text-anchor="end" textLength="18.60" lengthAdjust="spacingAndGlyphs" >400</text>
<line x1="326.90" y1="279.19" x2="328.70" y2="279.19" stroke="#262626" stroke-width="0.9" />
<line x1="325.50" y1="265.45" x2="328.70" y2="265.45" stroke="#262626" stroke-width="1.3" />
<text class="s" x="324.40" y="269.45" font-size="11.6" text-anchor="end" textLength="18.60" lengthAdjust="spacingAndGlyphs" >500</text>
<line x1="326.90" y1="251.70" x2="328.70" y2="251.70" stroke="#262626" stroke-width="0.9" />
<line x1="325.50" y1="237.96" x2="328.70" y2="237.96" stroke="#262626" stroke-width="1.3" />
<text class="s" x="324.40" y="241.96" font-size="11.6" text-anchor="end" textLength="18.60" lengthAdjust="spacingAndGlyphs" >600</text>
<line x1="326.90" y1="224.22" x2="328.70" y2="224.22" stroke="#262626" stroke-width="0.9" />
<line x1="325.50" y1="210.47" x2="328.70" y2="210.47" stroke="#262626" stroke-width="1.3" />
<text class="s" x="324.40" y="214.47" font-size="11.6" text-anchor="end" textLength="18.60" lengthAdjust="spacingAndGlyphs" >700</text>
<rect x="331.05" y="293.55" width="17.70" height="109.35" fill="#c9c9c9" stroke="#3a3a3a" stroke-width="1.1"/>
<line x1="339.90" y1="293.00" x2="339.90" y2="288.00" stroke="#3a3a3a" stroke-width="1.1" />
<line x1="336.40" y1="288.00" x2="343.40" y2="288.00" stroke="#262626" stroke-width="1.3" />
<rect x="353.05" y="233.05" width="17.10" height="169.85" fill="#c9c9c9" stroke="#3a3a3a" stroke-width="1.1"/>
<line x1="361.60" y1="232.50" x2="361.60" y2="219.25" stroke="#3a3a3a" stroke-width="1.1" />
<line x1="358.10" y1="219.25" x2="365.10" y2="219.25" stroke="#262626" stroke-width="1.3" />
<rect x="374.65" y="391.80" width="17.50" height="11.10" fill="#c9c9c9" stroke="#3a3a3a" stroke-width="1.1"/>
<line x1="383.40" y1="391.25" x2="383.40" y2="388.25" stroke="#3a3a3a" stroke-width="1.1" />
<line x1="379.90" y1="388.25" x2="386.90" y2="388.25" stroke="#262626" stroke-width="1.3" />
<rect x="397.55" y="397.55" width="17.70" height="5.35" fill="#c9c9c9" stroke="#3a3a3a" stroke-width="1.1"/>
<line x1="406.40" y1="397.00" x2="406.40" y2="395.00" stroke="#3a3a3a" stroke-width="1.1" />
<line x1="402.90" y1="395.00" x2="409.90" y2="395.00" stroke="#262626" stroke-width="1.3" />
<rect x="418.95" y="344.55" width="17.70" height="58.35" fill="#c9c9c9" stroke="#3a3a3a" stroke-width="1.1"/>
<line x1="427.80" y1="344.00" x2="427.80" y2="336.25" stroke="#3a3a3a" stroke-width="1.1" />
<line x1="424.30" y1="336.25" x2="431.30" y2="336.25" stroke="#262626" stroke-width="1.3" />
<rect x="441.85" y="394.55" width="17.50" height="8.35" fill="#c9c9c9" stroke="#3a3a3a" stroke-width="1.1"/>
<line x1="450.60" y1="394.00" x2="450.60" y2="392.00" stroke="#3a3a3a" stroke-width="1.1" />
<line x1="447.10" y1="392.00" x2="454.10" y2="392.00" stroke="#262626" stroke-width="1.3" />
<line x1="330.5" y1="375.1" x2="464" y2="375.1" stroke="#222" stroke-width="1.25" stroke-dasharray="4 0.85 0.8 0.85"/>
<text class="s" x="339.50" y="414.30" font-size="12.0" text-anchor="middle" >1</text>
<text class="s" x="362.00" y="414.30" font-size="12.0" text-anchor="middle" >2</text>
<text class="s" x="383.75" y="414.30" font-size="12.0" text-anchor="middle" >3</text>
<text class="s" x="406.25" y="414.30" font-size="12.0" text-anchor="middle" >4</text>
<text class="s" x="428.00" y="414.30" font-size="12.0" text-anchor="middle" >5</text>
<text class="s" x="450.00" y="414.30" font-size="12.0" text-anchor="middle" >6</text>
<text class="s" x="359.50" y="425.20" font-size="10.0" text-anchor="start" textLength="61.00" lengthAdjust="spacingAndGlyphs" >TREATMENT</text>
<text class="s" font-size="11.7" transform="translate(289.0,328.5) rotate(-90)" textLength="53.4" lengthAdjust="spacingAndGlyphs">% Control</text>
</svg>
</body></html>
